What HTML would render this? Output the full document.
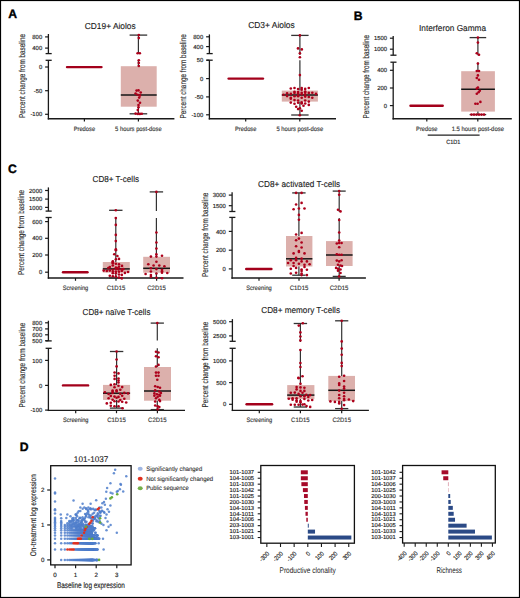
<!DOCTYPE html>
<html><head><meta charset="utf-8"><style>html,body{margin:0;padding:0;background:#fff;}body{width:520px;height:598px;position:relative;overflow:hidden;font-family:"Liberation Sans", sans-serif;}</style></head><body>
<svg width="520" height="598" viewBox="0 0 520 598" text-rendering="geometricPrecision" style="position:absolute;left:0;top:0" font-family='"Liberation Sans", sans-serif'>
<rect x="0" y="0" width="520" height="598" fill="#fff"/>
<rect x="0.5" y="0.5" width="519" height="597" fill="none" stroke="#000" stroke-width="1.2"/>
<text x="8.30" y="18.00" font-size="12.2" text-anchor="start" fill="#000" font-weight="bold" stroke="#000" stroke-width="0.35">A</text>
<text x="353.70" y="20.20" font-size="12.2" text-anchor="start" fill="#000" font-weight="bold" stroke="#000" stroke-width="0.35">B</text>
<text x="8.00" y="172.60" font-size="12.2" text-anchor="start" fill="#000" font-weight="bold" stroke="#000" stroke-width="0.35">C</text>
<text x="19.80" y="451.00" font-size="12.2" text-anchor="start" fill="#000" font-weight="bold" stroke="#000" stroke-width="0.35">D</text>
<text x="24.90" y="118.00" font-size="8.5" text-anchor="start" fill="#2a2a2a" font-weight="normal" textLength="84.00" lengthAdjust="spacingAndGlyphs" transform="rotate(-90 24.90 118.00)" stroke="#2a2a2a" stroke-width="0.15">Percent change from baseline</text>
<text x="84.80" y="28.60" font-size="8.7" text-anchor="start" fill="#1a1a1a" font-weight="normal" textLength="50.90" lengthAdjust="spacingAndGlyphs" stroke="#1a1a1a" stroke-width="0.12">CD19+ Aiolos</text>
<line x1="48.40" y1="34.00" x2="48.40" y2="53.60" stroke="#1a1a1a" stroke-width="1.3" stroke-linecap="butt"/>
<line x1="48.40" y1="60.30" x2="48.40" y2="119.45" stroke="#1a1a1a" stroke-width="1.3" stroke-linecap="butt"/>
<line x1="45.60" y1="53.60" x2="51.70" y2="53.60" stroke="#1a1a1a" stroke-width="1.3" stroke-linecap="butt"/>
<line x1="45.60" y1="60.30" x2="51.70" y2="60.30" stroke="#1a1a1a" stroke-width="1.3" stroke-linecap="butt"/>
<line x1="47.75" y1="118.80" x2="174.40" y2="118.80" stroke="#1a1a1a" stroke-width="1.4" stroke-linecap="butt"/>
<line x1="45.10" y1="36.90" x2="48.40" y2="36.90" stroke="#1a1a1a" stroke-width="1.2" stroke-linecap="butt"/>
<text x="42.20" y="39.00" font-size="5.9" text-anchor="end" fill="#222" font-weight="normal" stroke="#222" stroke-width="0.15">800</text>
<line x1="45.10" y1="48.10" x2="48.40" y2="48.10" stroke="#1a1a1a" stroke-width="1.2" stroke-linecap="butt"/>
<text x="42.20" y="50.20" font-size="5.9" text-anchor="end" fill="#222" font-weight="normal" stroke="#222" stroke-width="0.15">400</text>
<line x1="45.10" y1="67.00" x2="48.40" y2="67.00" stroke="#1a1a1a" stroke-width="1.2" stroke-linecap="butt"/>
<text x="42.20" y="69.10" font-size="5.9" text-anchor="end" fill="#222" font-weight="normal" stroke="#222" stroke-width="0.15">0</text>
<line x1="45.10" y1="90.70" x2="48.40" y2="90.70" stroke="#1a1a1a" stroke-width="1.2" stroke-linecap="butt"/>
<text x="42.20" y="92.80" font-size="5.9" text-anchor="end" fill="#222" font-weight="normal" stroke="#222" stroke-width="0.15">-50</text>
<line x1="45.10" y1="114.30" x2="48.40" y2="114.30" stroke="#1a1a1a" stroke-width="1.2" stroke-linecap="butt"/>
<text x="42.20" y="116.40" font-size="5.9" text-anchor="end" fill="#222" font-weight="normal" stroke="#222" stroke-width="0.15">-100</text>
<line x1="84.40" y1="118.80" x2="84.40" y2="121.60" stroke="#1a1a1a" stroke-width="1.2" stroke-linecap="butt"/>
<text x="84.40" y="130.70" font-size="6.3" text-anchor="middle" fill="#383838" font-weight="normal" textLength="21.40" lengthAdjust="spacingAndGlyphs" stroke="#383838" stroke-width="0.15">Predose</text>
<line x1="138.40" y1="118.80" x2="138.40" y2="121.60" stroke="#1a1a1a" stroke-width="1.2" stroke-linecap="butt"/>
<text x="138.40" y="130.70" font-size="6.3" text-anchor="middle" fill="#383838" font-weight="normal" textLength="46.70" lengthAdjust="spacingAndGlyphs" stroke="#383838" stroke-width="0.15">5 hours post-dose</text>
<line x1="67.00" y1="67.10" x2="101.50" y2="67.10" stroke="#a3001b" stroke-width="2.4" stroke-linecap="round"/>
<rect x="120.80" y="66.20" width="35.90" height="40.50" fill="#dcb0ac"/>
<line x1="138.40" y1="35.10" x2="138.40" y2="53.60" stroke="#333" stroke-width="1.2" stroke-linecap="butt"/>
<line x1="138.40" y1="60.30" x2="138.40" y2="66.20" stroke="#333" stroke-width="1.2" stroke-linecap="butt"/>
<line x1="138.40" y1="106.70" x2="138.40" y2="113.80" stroke="#333" stroke-width="1.2" stroke-linecap="butt"/>
<line x1="129.60" y1="35.10" x2="147.20" y2="35.10" stroke="#333" stroke-width="1.3" stroke-linecap="butt"/>
<line x1="129.60" y1="113.80" x2="147.20" y2="113.80" stroke="#333" stroke-width="1.3" stroke-linecap="butt"/>
<line x1="120.80" y1="94.90" x2="156.70" y2="94.90" stroke="#161616" stroke-width="1.5" stroke-linecap="butt"/>
<circle cx="138.80" cy="35.10" r="1.32" fill="#ad001b"/>
<circle cx="138.80" cy="38.10" r="1.32" fill="#ad001b"/>
<circle cx="137.60" cy="53.20" r="1.32" fill="#ad001b"/>
<circle cx="139.80" cy="53.20" r="1.32" fill="#ad001b"/>
<circle cx="138.80" cy="60.30" r="1.32" fill="#ad001b"/>
<circle cx="138.80" cy="63.00" r="1.32" fill="#ad001b"/>
<circle cx="138.80" cy="66.00" r="1.32" fill="#ad001b"/>
<circle cx="136.60" cy="90.60" r="1.32" fill="#ad001b"/>
<circle cx="138.50" cy="90.40" r="1.32" fill="#ad001b"/>
<circle cx="140.70" cy="92.50" r="1.32" fill="#ad001b"/>
<circle cx="135.60" cy="93.50" r="1.32" fill="#ad001b"/>
<circle cx="137.50" cy="94.70" r="1.32" fill="#ad001b"/>
<circle cx="140.00" cy="95.40" r="1.32" fill="#ad001b"/>
<circle cx="139.20" cy="97.60" r="1.32" fill="#ad001b"/>
<circle cx="137.80" cy="100.60" r="1.32" fill="#ad001b"/>
<circle cx="140.00" cy="102.80" r="1.32" fill="#ad001b"/>
<circle cx="138.50" cy="105.00" r="1.32" fill="#ad001b"/>
<circle cx="138.50" cy="107.20" r="1.32" fill="#ad001b"/>
<circle cx="137.80" cy="110.10" r="1.32" fill="#ad001b"/>
<circle cx="135.60" cy="113.60" r="1.32" fill="#ad001b"/>
<circle cx="137.80" cy="113.90" r="1.32" fill="#ad001b"/>
<circle cx="139.90" cy="113.90" r="1.32" fill="#ad001b"/>
<circle cx="141.80" cy="113.70" r="1.32" fill="#ad001b"/>
<text x="186.30" y="118.40" font-size="8.5" text-anchor="start" fill="#2a2a2a" font-weight="normal" textLength="84.10" lengthAdjust="spacingAndGlyphs" transform="rotate(-90 186.30 118.40)" stroke="#2a2a2a" stroke-width="0.15">Percent change from baseline</text>
<text x="248.20" y="28.40" font-size="8.7" text-anchor="start" fill="#1a1a1a" font-weight="normal" textLength="46.50" lengthAdjust="spacingAndGlyphs" stroke="#1a1a1a" stroke-width="0.12">CD3+ Aiolos</text>
<line x1="209.40" y1="34.40" x2="209.40" y2="53.60" stroke="#1a1a1a" stroke-width="1.3" stroke-linecap="butt"/>
<line x1="209.40" y1="60.20" x2="209.40" y2="119.45" stroke="#1a1a1a" stroke-width="1.3" stroke-linecap="butt"/>
<line x1="206.60" y1="53.60" x2="212.70" y2="53.60" stroke="#1a1a1a" stroke-width="1.3" stroke-linecap="butt"/>
<line x1="206.60" y1="60.20" x2="212.70" y2="60.20" stroke="#1a1a1a" stroke-width="1.3" stroke-linecap="butt"/>
<line x1="208.75" y1="118.80" x2="336.00" y2="118.80" stroke="#1a1a1a" stroke-width="1.4" stroke-linecap="butt"/>
<line x1="206.10" y1="36.80" x2="209.40" y2="36.80" stroke="#1a1a1a" stroke-width="1.2" stroke-linecap="butt"/>
<text x="203.20" y="38.90" font-size="5.9" text-anchor="end" fill="#222" font-weight="normal" stroke="#222" stroke-width="0.15">800</text>
<line x1="206.10" y1="46.60" x2="209.40" y2="46.60" stroke="#1a1a1a" stroke-width="1.2" stroke-linecap="butt"/>
<text x="203.20" y="48.70" font-size="5.9" text-anchor="end" fill="#222" font-weight="normal" stroke="#222" stroke-width="0.15">400</text>
<line x1="206.10" y1="60.20" x2="209.40" y2="60.20" stroke="#1a1a1a" stroke-width="1.2" stroke-linecap="butt"/>
<text x="203.20" y="62.30" font-size="5.9" text-anchor="end" fill="#222" font-weight="normal" stroke="#222" stroke-width="0.15">50</text>
<line x1="206.10" y1="78.60" x2="209.40" y2="78.60" stroke="#1a1a1a" stroke-width="1.2" stroke-linecap="butt"/>
<text x="203.20" y="80.70" font-size="5.9" text-anchor="end" fill="#222" font-weight="normal" stroke="#222" stroke-width="0.15">0</text>
<line x1="206.10" y1="96.90" x2="209.40" y2="96.90" stroke="#1a1a1a" stroke-width="1.2" stroke-linecap="butt"/>
<text x="203.20" y="99.00" font-size="5.9" text-anchor="end" fill="#222" font-weight="normal" stroke="#222" stroke-width="0.15">-50</text>
<line x1="206.10" y1="114.80" x2="209.40" y2="114.80" stroke="#1a1a1a" stroke-width="1.2" stroke-linecap="butt"/>
<text x="203.20" y="116.90" font-size="5.9" text-anchor="end" fill="#222" font-weight="normal" stroke="#222" stroke-width="0.15">-100</text>
<line x1="245.70" y1="118.80" x2="245.70" y2="121.60" stroke="#1a1a1a" stroke-width="1.2" stroke-linecap="butt"/>
<text x="245.70" y="130.70" font-size="6.3" text-anchor="middle" fill="#383838" font-weight="normal" textLength="21.40" lengthAdjust="spacingAndGlyphs" stroke="#383838" stroke-width="0.15">Predose</text>
<line x1="299.80" y1="118.80" x2="299.80" y2="121.60" stroke="#1a1a1a" stroke-width="1.2" stroke-linecap="butt"/>
<text x="299.80" y="130.70" font-size="6.3" text-anchor="middle" fill="#383838" font-weight="normal" textLength="46.70" lengthAdjust="spacingAndGlyphs" stroke="#383838" stroke-width="0.15">5 hours post-dose</text>
<line x1="228.60" y1="78.60" x2="263.00" y2="78.60" stroke="#a3001b" stroke-width="2.4" stroke-linecap="round"/>
<rect x="281.80" y="90.60" width="36.10" height="11.00" fill="#dcb0ac"/>
<line x1="299.90" y1="35.40" x2="299.90" y2="55.00" stroke="#333" stroke-width="1.2" stroke-linecap="butt"/>
<line x1="299.90" y1="60.20" x2="299.90" y2="90.60" stroke="#333" stroke-width="1.2" stroke-linecap="butt"/>
<line x1="299.90" y1="101.60" x2="299.90" y2="115.00" stroke="#333" stroke-width="1.2" stroke-linecap="butt"/>
<line x1="291.20" y1="35.40" x2="308.60" y2="35.40" stroke="#333" stroke-width="1.3" stroke-linecap="butt"/>
<line x1="291.20" y1="115.00" x2="308.60" y2="115.00" stroke="#333" stroke-width="1.3" stroke-linecap="butt"/>
<line x1="281.80" y1="95.00" x2="317.90" y2="95.00" stroke="#161616" stroke-width="1.5" stroke-linecap="butt"/>
<circle cx="299.90" cy="35.40" r="1.32" fill="#ad001b"/>
<circle cx="298.00" cy="48.40" r="1.32" fill="#ad001b"/>
<circle cx="301.80" cy="49.40" r="1.32" fill="#ad001b"/>
<circle cx="299.90" cy="53.30" r="1.32" fill="#ad001b"/>
<circle cx="299.90" cy="57.20" r="1.32" fill="#ad001b"/>
<circle cx="299.90" cy="75.10" r="1.32" fill="#ad001b"/>
<circle cx="290.80" cy="88.50" r="1.32" fill="#ad001b"/>
<circle cx="294.50" cy="88.00" r="1.32" fill="#ad001b"/>
<circle cx="298.10" cy="89.10" r="1.32" fill="#ad001b"/>
<circle cx="301.70" cy="88.00" r="1.32" fill="#ad001b"/>
<circle cx="301.70" cy="89.70" r="1.32" fill="#ad001b"/>
<circle cx="305.20" cy="88.90" r="1.32" fill="#ad001b"/>
<circle cx="308.80" cy="88.00" r="1.32" fill="#ad001b"/>
<circle cx="287.10" cy="93.20" r="1.32" fill="#ad001b"/>
<circle cx="294.50" cy="91.80" r="1.32" fill="#ad001b"/>
<circle cx="294.50" cy="92.90" r="1.32" fill="#ad001b"/>
<circle cx="298.10" cy="92.00" r="1.32" fill="#ad001b"/>
<circle cx="298.10" cy="93.20" r="1.32" fill="#ad001b"/>
<circle cx="301.70" cy="92.80" r="1.32" fill="#ad001b"/>
<circle cx="305.20" cy="91.60" r="1.32" fill="#ad001b"/>
<circle cx="305.20" cy="92.80" r="1.32" fill="#ad001b"/>
<circle cx="308.80" cy="92.90" r="1.32" fill="#ad001b"/>
<circle cx="312.30" cy="92.80" r="1.32" fill="#ad001b"/>
<circle cx="316.00" cy="93.90" r="1.32" fill="#ad001b"/>
<circle cx="283.50" cy="94.70" r="1.32" fill="#ad001b"/>
<circle cx="290.80" cy="93.90" r="1.32" fill="#ad001b"/>
<circle cx="298.10" cy="95.50" r="1.32" fill="#ad001b"/>
<circle cx="301.70" cy="94.30" r="1.32" fill="#ad001b"/>
<circle cx="305.20" cy="94.70" r="1.32" fill="#ad001b"/>
<circle cx="287.10" cy="96.10" r="1.32" fill="#ad001b"/>
<circle cx="294.50" cy="96.20" r="1.32" fill="#ad001b"/>
<circle cx="298.10" cy="96.20" r="1.32" fill="#ad001b"/>
<circle cx="305.20" cy="96.60" r="1.32" fill="#ad001b"/>
<circle cx="308.80" cy="97.00" r="1.32" fill="#ad001b"/>
<circle cx="290.80" cy="97.80" r="1.32" fill="#ad001b"/>
<circle cx="290.80" cy="98.80" r="1.32" fill="#ad001b"/>
<circle cx="301.70" cy="97.80" r="1.32" fill="#ad001b"/>
<circle cx="312.30" cy="97.80" r="1.32" fill="#ad001b"/>
<circle cx="294.50" cy="100.10" r="1.32" fill="#ad001b"/>
<circle cx="298.10" cy="100.50" r="1.32" fill="#ad001b"/>
<circle cx="305.20" cy="100.50" r="1.32" fill="#ad001b"/>
<circle cx="308.80" cy="101.60" r="1.32" fill="#ad001b"/>
<circle cx="290.80" cy="102.60" r="1.32" fill="#ad001b"/>
<circle cx="294.50" cy="103.70" r="1.32" fill="#ad001b"/>
<circle cx="298.10" cy="102.80" r="1.32" fill="#ad001b"/>
<circle cx="301.70" cy="102.40" r="1.32" fill="#ad001b"/>
<circle cx="301.70" cy="103.50" r="1.32" fill="#ad001b"/>
<circle cx="305.20" cy="103.50" r="1.32" fill="#ad001b"/>
<circle cx="308.80" cy="104.90" r="1.32" fill="#ad001b"/>
<circle cx="296.20" cy="106.80" r="1.32" fill="#ad001b"/>
<circle cx="303.50" cy="105.80" r="1.32" fill="#ad001b"/>
<circle cx="298.10" cy="109.10" r="1.32" fill="#ad001b"/>
<circle cx="299.90" cy="108.20" r="1.32" fill="#ad001b"/>
<circle cx="301.70" cy="110.80" r="1.32" fill="#ad001b"/>
<circle cx="299.80" cy="115.20" r="1.32" fill="#ad001b"/>
<text x="368.60" y="118.50" font-size="8.5" text-anchor="start" fill="#2a2a2a" font-weight="normal" textLength="83.50" lengthAdjust="spacingAndGlyphs" transform="rotate(-90 368.60 118.50)" stroke="#2a2a2a" stroke-width="0.15">Percent change from baseline</text>
<text x="419.00" y="30.60" font-size="8.7" text-anchor="start" fill="#1a1a1a" font-weight="normal" textLength="67.00" lengthAdjust="spacingAndGlyphs" stroke="#1a1a1a" stroke-width="0.12">Interferon Gamma</text>
<line x1="393.20" y1="36.00" x2="393.20" y2="55.20" stroke="#1a1a1a" stroke-width="1.3" stroke-linecap="butt"/>
<line x1="393.20" y1="62.20" x2="393.20" y2="119.45" stroke="#1a1a1a" stroke-width="1.3" stroke-linecap="butt"/>
<line x1="390.40" y1="55.20" x2="396.50" y2="55.20" stroke="#1a1a1a" stroke-width="1.3" stroke-linecap="butt"/>
<line x1="390.40" y1="62.20" x2="396.50" y2="62.20" stroke="#1a1a1a" stroke-width="1.3" stroke-linecap="butt"/>
<line x1="392.55" y1="118.80" x2="511.80" y2="118.80" stroke="#1a1a1a" stroke-width="1.4" stroke-linecap="butt"/>
<line x1="389.90" y1="38.20" x2="393.20" y2="38.20" stroke="#1a1a1a" stroke-width="1.2" stroke-linecap="butt"/>
<text x="387.00" y="40.30" font-size="5.9" text-anchor="end" fill="#222" font-weight="normal" stroke="#222" stroke-width="0.15">1500</text>
<line x1="389.90" y1="49.20" x2="393.20" y2="49.20" stroke="#1a1a1a" stroke-width="1.2" stroke-linecap="butt"/>
<text x="387.00" y="51.30" font-size="5.9" text-anchor="end" fill="#222" font-weight="normal" stroke="#222" stroke-width="0.15">1000</text>
<line x1="389.90" y1="70.30" x2="393.20" y2="70.30" stroke="#1a1a1a" stroke-width="1.2" stroke-linecap="butt"/>
<text x="387.00" y="72.40" font-size="5.9" text-anchor="end" fill="#222" font-weight="normal" stroke="#222" stroke-width="0.15">400</text>
<line x1="389.90" y1="88.00" x2="393.20" y2="88.00" stroke="#1a1a1a" stroke-width="1.2" stroke-linecap="butt"/>
<text x="387.00" y="90.10" font-size="5.9" text-anchor="end" fill="#222" font-weight="normal" stroke="#222" stroke-width="0.15">200</text>
<line x1="389.90" y1="105.60" x2="393.20" y2="105.60" stroke="#1a1a1a" stroke-width="1.2" stroke-linecap="butt"/>
<text x="387.00" y="107.70" font-size="5.9" text-anchor="end" fill="#222" font-weight="normal" stroke="#222" stroke-width="0.15">0</text>
<line x1="426.80" y1="118.80" x2="426.80" y2="121.60" stroke="#1a1a1a" stroke-width="1.2" stroke-linecap="butt"/>
<text x="426.80" y="130.70" font-size="6.3" text-anchor="middle" fill="#383838" font-weight="normal" textLength="21.40" lengthAdjust="spacingAndGlyphs" stroke="#383838" stroke-width="0.15">Predose</text>
<line x1="477.80" y1="118.80" x2="477.80" y2="121.60" stroke="#1a1a1a" stroke-width="1.2" stroke-linecap="butt"/>
<text x="477.80" y="130.70" font-size="6.3" text-anchor="middle" fill="#383838" font-weight="normal" textLength="52.30" lengthAdjust="spacingAndGlyphs" stroke="#383838" stroke-width="0.15">1.5 hours post-dose</text>
<line x1="410.50" y1="105.70" x2="442.70" y2="105.70" stroke="#a3001b" stroke-width="2.4" stroke-linecap="round"/>
<rect x="461.20" y="71.20" width="33.70" height="40.40" fill="#dcb0ac"/>
<line x1="477.90" y1="37.60" x2="477.90" y2="55.20" stroke="#333" stroke-width="1.2" stroke-linecap="butt"/>
<line x1="477.90" y1="62.50" x2="477.90" y2="71.20" stroke="#333" stroke-width="1.2" stroke-linecap="butt"/>
<line x1="477.90" y1="111.60" x2="477.90" y2="114.60" stroke="#333" stroke-width="1.2" stroke-linecap="butt"/>
<line x1="469.60" y1="37.60" x2="486.20" y2="37.60" stroke="#333" stroke-width="1.3" stroke-linecap="butt"/>
<line x1="469.60" y1="114.60" x2="486.20" y2="114.60" stroke="#333" stroke-width="1.3" stroke-linecap="butt"/>
<line x1="461.20" y1="89.30" x2="494.90" y2="89.30" stroke="#161616" stroke-width="1.5" stroke-linecap="butt"/>
<circle cx="477.90" cy="37.60" r="1.32" fill="#ad001b"/>
<circle cx="477.90" cy="42.60" r="1.32" fill="#ad001b"/>
<circle cx="476.80" cy="53.30" r="1.32" fill="#ad001b"/>
<circle cx="479.00" cy="54.80" r="1.32" fill="#ad001b"/>
<circle cx="477.90" cy="63.60" r="1.32" fill="#ad001b"/>
<circle cx="476.80" cy="71.00" r="1.32" fill="#ad001b"/>
<circle cx="479.00" cy="71.00" r="1.32" fill="#ad001b"/>
<circle cx="477.90" cy="75.40" r="1.32" fill="#ad001b"/>
<circle cx="476.80" cy="78.00" r="1.32" fill="#ad001b"/>
<circle cx="479.00" cy="79.80" r="1.32" fill="#ad001b"/>
<circle cx="477.90" cy="87.60" r="1.32" fill="#ad001b"/>
<circle cx="476.80" cy="88.60" r="1.32" fill="#ad001b"/>
<circle cx="479.80" cy="90.80" r="1.32" fill="#ad001b"/>
<circle cx="478.60" cy="92.30" r="1.32" fill="#ad001b"/>
<circle cx="476.80" cy="93.80" r="1.32" fill="#ad001b"/>
<circle cx="475.40" cy="103.80" r="1.32" fill="#ad001b"/>
<circle cx="477.60" cy="103.80" r="1.32" fill="#ad001b"/>
<circle cx="480.40" cy="101.90" r="1.32" fill="#ad001b"/>
<circle cx="471.50" cy="114.60" r="1.32" fill="#ad001b"/>
<circle cx="474.00" cy="114.60" r="1.32" fill="#ad001b"/>
<circle cx="476.50" cy="114.60" r="1.32" fill="#ad001b"/>
<circle cx="479.00" cy="114.60" r="1.32" fill="#ad001b"/>
<circle cx="481.50" cy="114.60" r="1.32" fill="#ad001b"/>
<circle cx="484.00" cy="114.60" r="1.32" fill="#ad001b"/>
<text x="24.00" y="275.00" font-size="8.5" text-anchor="start" fill="#2a2a2a" font-weight="normal" textLength="85.00" lengthAdjust="spacingAndGlyphs" transform="rotate(-90 24.00 275.00)" stroke="#2a2a2a" stroke-width="0.15">Percent change from baseline</text>
<text x="92.60" y="182.10" font-size="8.7" text-anchor="start" fill="#1a1a1a" font-weight="normal" textLength="46.40" lengthAdjust="spacingAndGlyphs" stroke="#1a1a1a" stroke-width="0.12">CD8+ T-cells</text>
<line x1="48.40" y1="187.40" x2="48.40" y2="211.10" stroke="#1a1a1a" stroke-width="1.3" stroke-linecap="butt"/>
<line x1="48.40" y1="217.50" x2="48.40" y2="278.65" stroke="#1a1a1a" stroke-width="1.3" stroke-linecap="butt"/>
<line x1="45.60" y1="211.10" x2="51.70" y2="211.10" stroke="#1a1a1a" stroke-width="1.3" stroke-linecap="butt"/>
<line x1="45.60" y1="217.50" x2="51.70" y2="217.50" stroke="#1a1a1a" stroke-width="1.3" stroke-linecap="butt"/>
<line x1="47.75" y1="278.00" x2="183.50" y2="278.00" stroke="#1a1a1a" stroke-width="1.4" stroke-linecap="butt"/>
<line x1="45.10" y1="190.50" x2="48.40" y2="190.50" stroke="#1a1a1a" stroke-width="1.2" stroke-linecap="butt"/>
<text x="42.20" y="192.60" font-size="5.9" text-anchor="end" fill="#222" font-weight="normal" stroke="#222" stroke-width="0.15">2000</text>
<line x1="45.10" y1="199.10" x2="48.40" y2="199.10" stroke="#1a1a1a" stroke-width="1.2" stroke-linecap="butt"/>
<text x="42.20" y="201.20" font-size="5.9" text-anchor="end" fill="#222" font-weight="normal" stroke="#222" stroke-width="0.15">1500</text>
<line x1="45.10" y1="207.40" x2="48.40" y2="207.40" stroke="#1a1a1a" stroke-width="1.2" stroke-linecap="butt"/>
<text x="42.20" y="209.50" font-size="5.9" text-anchor="end" fill="#222" font-weight="normal" stroke="#222" stroke-width="0.15">1000</text>
<line x1="45.10" y1="221.60" x2="48.40" y2="221.60" stroke="#1a1a1a" stroke-width="1.2" stroke-linecap="butt"/>
<text x="42.20" y="223.70" font-size="5.9" text-anchor="end" fill="#222" font-weight="normal" stroke="#222" stroke-width="0.15">600</text>
<line x1="45.10" y1="238.30" x2="48.40" y2="238.30" stroke="#1a1a1a" stroke-width="1.2" stroke-linecap="butt"/>
<text x="42.20" y="240.40" font-size="5.9" text-anchor="end" fill="#222" font-weight="normal" stroke="#222" stroke-width="0.15">400</text>
<line x1="45.10" y1="255.00" x2="48.40" y2="255.00" stroke="#1a1a1a" stroke-width="1.2" stroke-linecap="butt"/>
<text x="42.20" y="257.10" font-size="5.9" text-anchor="end" fill="#222" font-weight="normal" stroke="#222" stroke-width="0.15">200</text>
<line x1="45.10" y1="272.20" x2="48.40" y2="272.20" stroke="#1a1a1a" stroke-width="1.2" stroke-linecap="butt"/>
<text x="42.20" y="274.30" font-size="5.9" text-anchor="end" fill="#222" font-weight="normal" stroke="#222" stroke-width="0.15">0</text>
<line x1="75.50" y1="278.00" x2="75.50" y2="280.80" stroke="#1a1a1a" stroke-width="1.2" stroke-linecap="butt"/>
<text x="75.50" y="289.90" font-size="6.3" text-anchor="middle" fill="#383838" font-weight="normal" textLength="25.50" lengthAdjust="spacingAndGlyphs" stroke="#383838" stroke-width="0.15">Screening</text>
<line x1="116.00" y1="278.00" x2="116.00" y2="280.80" stroke="#1a1a1a" stroke-width="1.2" stroke-linecap="butt"/>
<text x="116.00" y="289.90" font-size="6.3" text-anchor="middle" fill="#383838" font-weight="normal" textLength="18.60" lengthAdjust="spacingAndGlyphs" stroke="#383838" stroke-width="0.15">C1D15</text>
<line x1="156.60" y1="278.00" x2="156.60" y2="280.80" stroke="#1a1a1a" stroke-width="1.2" stroke-linecap="butt"/>
<text x="156.60" y="289.90" font-size="6.3" text-anchor="middle" fill="#383838" font-weight="normal" textLength="18.60" lengthAdjust="spacingAndGlyphs" stroke="#383838" stroke-width="0.15">C2D15</text>
<line x1="63.00" y1="272.30" x2="87.50" y2="272.30" stroke="#a3001b" stroke-width="2.4" stroke-linecap="round"/>
<rect x="102.80" y="262.00" width="27.00" height="10.60" fill="#dcb0ac"/>
<line x1="115.80" y1="210.30" x2="115.80" y2="210.30" stroke="#333" stroke-width="1.2" stroke-linecap="butt"/>
<line x1="115.80" y1="217.80" x2="115.80" y2="262.00" stroke="#333" stroke-width="1.2" stroke-linecap="butt"/>
<line x1="115.80" y1="272.60" x2="115.80" y2="278.00" stroke="#333" stroke-width="1.2" stroke-linecap="butt"/>
<line x1="109.10" y1="210.30" x2="122.50" y2="210.30" stroke="#333" stroke-width="1.3" stroke-linecap="butt"/>
<line x1="109.10" y1="278.00" x2="122.50" y2="278.00" stroke="#333" stroke-width="1.3" stroke-linecap="butt"/>
<line x1="102.80" y1="268.90" x2="129.80" y2="268.90" stroke="#161616" stroke-width="1.5" stroke-linecap="butt"/>
<circle cx="115.80" cy="210.30" r="1.32" fill="#ad001b"/>
<circle cx="115.80" cy="218.10" r="1.32" fill="#ad001b"/>
<circle cx="115.80" cy="224.90" r="1.32" fill="#ad001b"/>
<circle cx="115.80" cy="234.90" r="1.32" fill="#ad001b"/>
<circle cx="115.80" cy="241.10" r="1.32" fill="#ad001b"/>
<circle cx="115.80" cy="249.30" r="1.32" fill="#ad001b"/>
<circle cx="115.90" cy="250.30" r="1.32" fill="#ad001b"/>
<circle cx="114.30" cy="254.20" r="1.32" fill="#ad001b"/>
<circle cx="117.40" cy="256.00" r="1.32" fill="#ad001b"/>
<circle cx="115.90" cy="259.20" r="1.32" fill="#ad001b"/>
<circle cx="119.00" cy="258.90" r="1.32" fill="#ad001b"/>
<circle cx="112.80" cy="261.20" r="1.32" fill="#ad001b"/>
<circle cx="112.80" cy="262.30" r="1.32" fill="#ad001b"/>
<circle cx="112.80" cy="263.20" r="1.32" fill="#ad001b"/>
<circle cx="115.90" cy="263.80" r="1.32" fill="#ad001b"/>
<circle cx="119.00" cy="264.20" r="1.32" fill="#ad001b"/>
<circle cx="112.80" cy="265.50" r="1.32" fill="#ad001b"/>
<circle cx="122.00" cy="265.90" r="1.32" fill="#ad001b"/>
<circle cx="109.80" cy="267.10" r="1.32" fill="#ad001b"/>
<circle cx="108.30" cy="268.00" r="1.32" fill="#ad001b"/>
<circle cx="115.90" cy="267.50" r="1.32" fill="#ad001b"/>
<circle cx="119.00" cy="266.70" r="1.32" fill="#ad001b"/>
<circle cx="117.40" cy="268.20" r="1.32" fill="#ad001b"/>
<circle cx="103.70" cy="270.60" r="1.32" fill="#ad001b"/>
<circle cx="106.80" cy="270.90" r="1.32" fill="#ad001b"/>
<circle cx="109.80" cy="270.60" r="1.32" fill="#ad001b"/>
<circle cx="112.80" cy="269.70" r="1.32" fill="#ad001b"/>
<circle cx="115.90" cy="268.80" r="1.32" fill="#ad001b"/>
<circle cx="118.50" cy="269.40" r="1.32" fill="#ad001b"/>
<circle cx="121.80" cy="269.40" r="1.32" fill="#ad001b"/>
<circle cx="123.40" cy="269.10" r="1.32" fill="#ad001b"/>
<circle cx="112.80" cy="271.80" r="1.32" fill="#ad001b"/>
<circle cx="115.90" cy="271.50" r="1.32" fill="#ad001b"/>
<circle cx="119.00" cy="271.70" r="1.32" fill="#ad001b"/>
<circle cx="121.80" cy="270.90" r="1.32" fill="#ad001b"/>
<circle cx="112.80" cy="273.30" r="1.32" fill="#ad001b"/>
<circle cx="115.90" cy="273.30" r="1.32" fill="#ad001b"/>
<circle cx="124.90" cy="272.90" r="1.32" fill="#ad001b"/>
<circle cx="128.00" cy="272.00" r="1.32" fill="#ad001b"/>
<circle cx="109.80" cy="275.80" r="1.32" fill="#ad001b"/>
<circle cx="112.80" cy="276.30" r="1.32" fill="#ad001b"/>
<circle cx="115.90" cy="276.60" r="1.32" fill="#ad001b"/>
<circle cx="119.00" cy="274.50" r="1.32" fill="#ad001b"/>
<circle cx="121.80" cy="274.90" r="1.32" fill="#ad001b"/>
<circle cx="119.00" cy="277.60" r="1.32" fill="#ad001b"/>
<circle cx="121.80" cy="278.40" r="1.32" fill="#ad001b"/>
<rect x="143.20" y="256.80" width="26.80" height="15.90" fill="#dcb0ac"/>
<line x1="156.40" y1="191.90" x2="156.40" y2="210.90" stroke="#333" stroke-width="1.2" stroke-linecap="butt"/>
<line x1="156.40" y1="218.10" x2="156.40" y2="256.80" stroke="#333" stroke-width="1.2" stroke-linecap="butt"/>
<line x1="156.40" y1="272.70" x2="156.40" y2="278.00" stroke="#333" stroke-width="1.2" stroke-linecap="butt"/>
<line x1="149.70" y1="191.90" x2="163.10" y2="191.90" stroke="#333" stroke-width="1.3" stroke-linecap="butt"/>
<line x1="149.70" y1="278.00" x2="163.10" y2="278.00" stroke="#333" stroke-width="1.3" stroke-linecap="butt"/>
<line x1="143.20" y1="268.30" x2="170.00" y2="268.30" stroke="#161616" stroke-width="1.5" stroke-linecap="butt"/>
<circle cx="156.40" cy="191.90" r="1.32" fill="#ad001b"/>
<circle cx="156.40" cy="232.50" r="1.32" fill="#ad001b"/>
<circle cx="156.40" cy="242.50" r="1.32" fill="#ad001b"/>
<circle cx="156.40" cy="248.60" r="1.32" fill="#ad001b"/>
<circle cx="156.40" cy="254.20" r="1.32" fill="#ad001b"/>
<circle cx="150.90" cy="256.60" r="1.32" fill="#ad001b"/>
<circle cx="156.40" cy="256.60" r="1.32" fill="#ad001b"/>
<circle cx="162.00" cy="255.80" r="1.32" fill="#ad001b"/>
<circle cx="156.40" cy="261.80" r="1.32" fill="#ad001b"/>
<circle cx="148.30" cy="264.30" r="1.32" fill="#ad001b"/>
<circle cx="153.60" cy="265.50" r="1.32" fill="#ad001b"/>
<circle cx="159.30" cy="265.50" r="1.32" fill="#ad001b"/>
<circle cx="164.40" cy="266.30" r="1.32" fill="#ad001b"/>
<circle cx="150.90" cy="268.30" r="1.32" fill="#ad001b"/>
<circle cx="156.40" cy="269.10" r="1.32" fill="#ad001b"/>
<circle cx="162.00" cy="269.80" r="1.32" fill="#ad001b"/>
<circle cx="145.60" cy="274.00" r="1.32" fill="#ad001b"/>
<circle cx="150.90" cy="275.10" r="1.32" fill="#ad001b"/>
<circle cx="150.90" cy="276.70" r="1.32" fill="#ad001b"/>
<circle cx="156.40" cy="273.50" r="1.32" fill="#ad001b"/>
<circle cx="162.00" cy="272.70" r="1.32" fill="#ad001b"/>
<circle cx="167.30" cy="273.00" r="1.32" fill="#ad001b"/>
<circle cx="156.40" cy="277.80" r="1.32" fill="#ad001b"/>
<circle cx="162.00" cy="278.30" r="1.32" fill="#ad001b"/>
<circle cx="162.00" cy="271.30" r="1.32" fill="#ad001b"/>
<circle cx="150.90" cy="271.50" r="1.32" fill="#ad001b"/>
<text x="207.60" y="277.00" font-size="8.5" text-anchor="start" fill="#2a2a2a" font-weight="normal" textLength="84.20" lengthAdjust="spacingAndGlyphs" transform="rotate(-90 207.60 277.00)" stroke="#2a2a2a" stroke-width="0.15">Percent change from baseline</text>
<text x="258.10" y="187.00" font-size="8.7" text-anchor="start" fill="#1a1a1a" font-weight="normal" textLength="82.00" lengthAdjust="spacingAndGlyphs" stroke="#1a1a1a" stroke-width="0.12">CD8+ activated T-cells</text>
<line x1="232.10" y1="192.30" x2="232.10" y2="211.50" stroke="#1a1a1a" stroke-width="1.3" stroke-linecap="butt"/>
<line x1="232.10" y1="217.40" x2="232.10" y2="278.65" stroke="#1a1a1a" stroke-width="1.3" stroke-linecap="butt"/>
<line x1="229.30" y1="211.50" x2="235.40" y2="211.50" stroke="#1a1a1a" stroke-width="1.3" stroke-linecap="butt"/>
<line x1="229.30" y1="217.40" x2="235.40" y2="217.40" stroke="#1a1a1a" stroke-width="1.3" stroke-linecap="butt"/>
<line x1="231.45" y1="278.00" x2="365.90" y2="278.00" stroke="#1a1a1a" stroke-width="1.4" stroke-linecap="butt"/>
<line x1="228.80" y1="195.10" x2="232.10" y2="195.10" stroke="#1a1a1a" stroke-width="1.2" stroke-linecap="butt"/>
<text x="225.90" y="197.20" font-size="5.9" text-anchor="end" fill="#222" font-weight="normal" stroke="#222" stroke-width="0.15">3000</text>
<line x1="228.80" y1="205.70" x2="232.10" y2="205.70" stroke="#1a1a1a" stroke-width="1.2" stroke-linecap="butt"/>
<text x="225.90" y="207.80" font-size="5.9" text-anchor="end" fill="#222" font-weight="normal" stroke="#222" stroke-width="0.15">1500</text>
<line x1="228.80" y1="231.40" x2="232.10" y2="231.40" stroke="#1a1a1a" stroke-width="1.2" stroke-linecap="butt"/>
<text x="225.90" y="233.50" font-size="5.9" text-anchor="end" fill="#222" font-weight="normal" stroke="#222" stroke-width="0.15">400</text>
<line x1="228.80" y1="250.20" x2="232.10" y2="250.20" stroke="#1a1a1a" stroke-width="1.2" stroke-linecap="butt"/>
<text x="225.90" y="252.30" font-size="5.9" text-anchor="end" fill="#222" font-weight="normal" stroke="#222" stroke-width="0.15">200</text>
<line x1="228.80" y1="268.90" x2="232.10" y2="268.90" stroke="#1a1a1a" stroke-width="1.2" stroke-linecap="butt"/>
<text x="225.90" y="271.00" font-size="5.9" text-anchor="end" fill="#222" font-weight="normal" stroke="#222" stroke-width="0.15">0</text>
<line x1="259.00" y1="278.00" x2="259.00" y2="280.80" stroke="#1a1a1a" stroke-width="1.2" stroke-linecap="butt"/>
<text x="259.00" y="289.90" font-size="6.3" text-anchor="middle" fill="#383838" font-weight="normal" textLength="25.50" lengthAdjust="spacingAndGlyphs" stroke="#383838" stroke-width="0.15">Screening</text>
<line x1="299.00" y1="278.00" x2="299.00" y2="280.80" stroke="#1a1a1a" stroke-width="1.2" stroke-linecap="butt"/>
<text x="299.00" y="289.90" font-size="6.3" text-anchor="middle" fill="#383838" font-weight="normal" textLength="18.60" lengthAdjust="spacingAndGlyphs" stroke="#383838" stroke-width="0.15">C1D15</text>
<line x1="339.10" y1="278.00" x2="339.10" y2="280.80" stroke="#1a1a1a" stroke-width="1.2" stroke-linecap="butt"/>
<text x="339.10" y="289.90" font-size="6.3" text-anchor="middle" fill="#383838" font-weight="normal" textLength="18.60" lengthAdjust="spacingAndGlyphs" stroke="#383838" stroke-width="0.15">C2D15</text>
<line x1="246.20" y1="269.00" x2="271.40" y2="269.00" stroke="#a3001b" stroke-width="2.4" stroke-linecap="round"/>
<rect x="286.00" y="236.00" width="26.40" height="30.50" fill="#dcb0ac"/>
<line x1="298.90" y1="192.90" x2="298.90" y2="236.00" stroke="#333" stroke-width="1.2" stroke-linecap="butt"/>
<line x1="298.90" y1="266.50" x2="298.90" y2="275.20" stroke="#333" stroke-width="1.2" stroke-linecap="butt"/>
<line x1="292.20" y1="192.90" x2="305.60" y2="192.90" stroke="#333" stroke-width="1.3" stroke-linecap="butt"/>
<line x1="292.20" y1="275.20" x2="305.60" y2="275.20" stroke="#333" stroke-width="1.3" stroke-linecap="butt"/>
<line x1="286.00" y1="258.80" x2="312.40" y2="258.80" stroke="#161616" stroke-width="1.5" stroke-linecap="butt"/>
<circle cx="296.10" cy="192.90" r="1.32" fill="#ad001b"/>
<circle cx="301.60" cy="192.90" r="1.32" fill="#ad001b"/>
<circle cx="296.10" cy="204.50" r="1.32" fill="#ad001b"/>
<circle cx="301.60" cy="202.90" r="1.32" fill="#ad001b"/>
<circle cx="293.60" cy="209.30" r="1.32" fill="#ad001b"/>
<circle cx="298.90" cy="208.50" r="1.32" fill="#ad001b"/>
<circle cx="304.50" cy="208.50" r="1.32" fill="#ad001b"/>
<circle cx="298.90" cy="214.90" r="1.32" fill="#ad001b"/>
<circle cx="298.90" cy="219.70" r="1.32" fill="#ad001b"/>
<circle cx="296.10" cy="234.50" r="1.32" fill="#ad001b"/>
<circle cx="301.60" cy="232.90" r="1.32" fill="#ad001b"/>
<circle cx="296.10" cy="240.30" r="1.32" fill="#ad001b"/>
<circle cx="298.90" cy="238.60" r="1.32" fill="#ad001b"/>
<circle cx="301.60" cy="242.50" r="1.32" fill="#ad001b"/>
<circle cx="296.10" cy="246.20" r="1.32" fill="#ad001b"/>
<circle cx="301.60" cy="247.50" r="1.32" fill="#ad001b"/>
<circle cx="298.90" cy="251.00" r="1.32" fill="#ad001b"/>
<circle cx="298.90" cy="252.00" r="1.32" fill="#ad001b"/>
<circle cx="293.60" cy="253.40" r="1.32" fill="#ad001b"/>
<circle cx="304.50" cy="253.40" r="1.32" fill="#ad001b"/>
<circle cx="296.10" cy="257.90" r="1.32" fill="#ad001b"/>
<circle cx="301.60" cy="258.60" r="1.32" fill="#ad001b"/>
<circle cx="290.80" cy="260.20" r="1.32" fill="#ad001b"/>
<circle cx="296.10" cy="260.20" r="1.32" fill="#ad001b"/>
<circle cx="301.60" cy="261.40" r="1.32" fill="#ad001b"/>
<circle cx="306.90" cy="261.40" r="1.32" fill="#ad001b"/>
<circle cx="288.10" cy="263.00" r="1.32" fill="#ad001b"/>
<circle cx="293.60" cy="263.00" r="1.32" fill="#ad001b"/>
<circle cx="298.90" cy="263.80" r="1.32" fill="#ad001b"/>
<circle cx="304.50" cy="264.70" r="1.32" fill="#ad001b"/>
<circle cx="309.60" cy="264.30" r="1.32" fill="#ad001b"/>
<circle cx="290.80" cy="268.70" r="1.32" fill="#ad001b"/>
<circle cx="296.10" cy="267.90" r="1.32" fill="#ad001b"/>
<circle cx="301.60" cy="269.50" r="1.32" fill="#ad001b"/>
<circle cx="306.90" cy="269.80" r="1.32" fill="#ad001b"/>
<circle cx="290.80" cy="273.50" r="1.32" fill="#ad001b"/>
<circle cx="296.10" cy="272.70" r="1.32" fill="#ad001b"/>
<circle cx="301.60" cy="273.50" r="1.32" fill="#ad001b"/>
<circle cx="306.90" cy="275.10" r="1.32" fill="#ad001b"/>
<circle cx="301.60" cy="271.00" r="1.32" fill="#ad001b"/>
<circle cx="301.60" cy="275.10" r="1.32" fill="#ad001b"/>
<circle cx="293.60" cy="266.00" r="1.32" fill="#ad001b"/>
<circle cx="304.50" cy="267.00" r="1.32" fill="#ad001b"/>
<rect x="326.00" y="241.10" width="26.60" height="24.90" fill="#dcb0ac"/>
<line x1="339.20" y1="191.10" x2="339.20" y2="211.70" stroke="#333" stroke-width="1.2" stroke-linecap="butt"/>
<line x1="339.20" y1="218.10" x2="339.20" y2="241.10" stroke="#333" stroke-width="1.2" stroke-linecap="butt"/>
<line x1="339.20" y1="266.00" x2="339.20" y2="276.40" stroke="#333" stroke-width="1.2" stroke-linecap="butt"/>
<line x1="332.70" y1="191.10" x2="345.70" y2="191.10" stroke="#333" stroke-width="1.3" stroke-linecap="butt"/>
<line x1="332.70" y1="276.40" x2="345.70" y2="276.40" stroke="#333" stroke-width="1.3" stroke-linecap="butt"/>
<line x1="326.00" y1="255.00" x2="352.60" y2="255.00" stroke="#161616" stroke-width="1.5" stroke-linecap="butt"/>
<circle cx="339.20" cy="191.10" r="1.32" fill="#ad001b"/>
<circle cx="339.20" cy="194.80" r="1.32" fill="#ad001b"/>
<circle cx="338.00" cy="209.80" r="1.32" fill="#ad001b"/>
<circle cx="340.50" cy="211.40" r="1.32" fill="#ad001b"/>
<circle cx="339.20" cy="220.00" r="1.32" fill="#ad001b"/>
<circle cx="339.20" cy="232.50" r="1.32" fill="#ad001b"/>
<circle cx="339.20" cy="240.60" r="1.32" fill="#ad001b"/>
<circle cx="336.80" cy="243.50" r="1.32" fill="#ad001b"/>
<circle cx="339.20" cy="243.00" r="1.32" fill="#ad001b"/>
<circle cx="341.60" cy="243.00" r="1.32" fill="#ad001b"/>
<circle cx="339.20" cy="247.30" r="1.32" fill="#ad001b"/>
<circle cx="336.80" cy="254.20" r="1.32" fill="#ad001b"/>
<circle cx="339.20" cy="254.70" r="1.32" fill="#ad001b"/>
<circle cx="341.60" cy="254.70" r="1.32" fill="#ad001b"/>
<circle cx="336.80" cy="260.60" r="1.32" fill="#ad001b"/>
<circle cx="339.20" cy="261.40" r="1.32" fill="#ad001b"/>
<circle cx="341.60" cy="260.20" r="1.32" fill="#ad001b"/>
<circle cx="338.00" cy="264.70" r="1.32" fill="#ad001b"/>
<circle cx="340.50" cy="265.50" r="1.32" fill="#ad001b"/>
<circle cx="342.00" cy="266.00" r="1.32" fill="#ad001b"/>
<circle cx="336.10" cy="267.90" r="1.32" fill="#ad001b"/>
<circle cx="338.00" cy="268.70" r="1.32" fill="#ad001b"/>
<circle cx="340.50" cy="269.50" r="1.32" fill="#ad001b"/>
<circle cx="338.00" cy="270.80" r="1.32" fill="#ad001b"/>
<circle cx="340.50" cy="273.00" r="1.32" fill="#ad001b"/>
<circle cx="339.20" cy="276.40" r="1.32" fill="#ad001b"/>
<text x="24.60" y="407.60" font-size="8.5" text-anchor="start" fill="#2a2a2a" font-weight="normal" textLength="84.80" lengthAdjust="spacingAndGlyphs" transform="rotate(-90 24.60 407.60)" stroke="#2a2a2a" stroke-width="0.15">Percent change from baseline</text>
<text x="82.60" y="315.10" font-size="8.7" text-anchor="start" fill="#1a1a1a" font-weight="normal" textLength="67.80" lengthAdjust="spacingAndGlyphs" stroke="#1a1a1a" stroke-width="0.12">CD8+ na&#239;ve T-cells</text>
<line x1="48.40" y1="320.70" x2="48.40" y2="340.90" stroke="#1a1a1a" stroke-width="1.3" stroke-linecap="butt"/>
<line x1="48.40" y1="348.30" x2="48.40" y2="411.05" stroke="#1a1a1a" stroke-width="1.3" stroke-linecap="butt"/>
<line x1="45.60" y1="340.90" x2="51.70" y2="340.90" stroke="#1a1a1a" stroke-width="1.3" stroke-linecap="butt"/>
<line x1="45.60" y1="348.30" x2="51.70" y2="348.30" stroke="#1a1a1a" stroke-width="1.3" stroke-linecap="butt"/>
<line x1="47.75" y1="410.40" x2="185.00" y2="410.40" stroke="#1a1a1a" stroke-width="1.4" stroke-linecap="butt"/>
<line x1="45.10" y1="322.80" x2="48.40" y2="322.80" stroke="#1a1a1a" stroke-width="1.2" stroke-linecap="butt"/>
<text x="42.20" y="324.90" font-size="5.9" text-anchor="end" fill="#222" font-weight="normal" stroke="#222" stroke-width="0.15">800</text>
<line x1="45.10" y1="328.90" x2="48.40" y2="328.90" stroke="#1a1a1a" stroke-width="1.2" stroke-linecap="butt"/>
<text x="42.20" y="331.00" font-size="5.9" text-anchor="end" fill="#222" font-weight="normal" stroke="#222" stroke-width="0.15">700</text>
<line x1="45.10" y1="334.80" x2="48.40" y2="334.80" stroke="#1a1a1a" stroke-width="1.2" stroke-linecap="butt"/>
<text x="42.20" y="336.90" font-size="5.9" text-anchor="end" fill="#222" font-weight="normal" stroke="#222" stroke-width="0.15">600</text>
<line x1="45.10" y1="340.70" x2="48.40" y2="340.70" stroke="#1a1a1a" stroke-width="1.2" stroke-linecap="butt"/>
<text x="42.20" y="342.80" font-size="5.9" text-anchor="end" fill="#222" font-weight="normal" stroke="#222" stroke-width="0.15">500</text>
<line x1="45.10" y1="360.40" x2="48.40" y2="360.40" stroke="#1a1a1a" stroke-width="1.2" stroke-linecap="butt"/>
<text x="42.20" y="362.50" font-size="5.9" text-anchor="end" fill="#222" font-weight="normal" stroke="#222" stroke-width="0.15">100</text>
<line x1="45.10" y1="385.40" x2="48.40" y2="385.40" stroke="#1a1a1a" stroke-width="1.2" stroke-linecap="butt"/>
<text x="42.20" y="387.50" font-size="5.9" text-anchor="end" fill="#222" font-weight="normal" stroke="#222" stroke-width="0.15">0</text>
<line x1="45.10" y1="410.10" x2="48.40" y2="410.10" stroke="#1a1a1a" stroke-width="1.2" stroke-linecap="butt"/>
<text x="42.20" y="412.20" font-size="5.9" text-anchor="end" fill="#222" font-weight="normal" stroke="#222" stroke-width="0.15">-100</text>
<line x1="75.70" y1="410.40" x2="75.70" y2="413.20" stroke="#1a1a1a" stroke-width="1.2" stroke-linecap="butt"/>
<text x="75.70" y="422.30" font-size="6.3" text-anchor="middle" fill="#383838" font-weight="normal" textLength="25.50" lengthAdjust="spacingAndGlyphs" stroke="#383838" stroke-width="0.15">Screening</text>
<line x1="116.50" y1="410.40" x2="116.50" y2="413.20" stroke="#1a1a1a" stroke-width="1.2" stroke-linecap="butt"/>
<text x="116.50" y="422.30" font-size="6.3" text-anchor="middle" fill="#383838" font-weight="normal" textLength="18.60" lengthAdjust="spacingAndGlyphs" stroke="#383838" stroke-width="0.15">C1D15</text>
<line x1="157.40" y1="410.40" x2="157.40" y2="413.20" stroke="#1a1a1a" stroke-width="1.2" stroke-linecap="butt"/>
<text x="157.40" y="422.30" font-size="6.3" text-anchor="middle" fill="#383838" font-weight="normal" textLength="18.60" lengthAdjust="spacingAndGlyphs" stroke="#383838" stroke-width="0.15">C2D15</text>
<line x1="63.00" y1="385.40" x2="88.10" y2="385.40" stroke="#a3001b" stroke-width="2.4" stroke-linecap="round"/>
<rect x="103.00" y="384.90" width="27.10" height="15.00" fill="#dcb0ac"/>
<line x1="116.60" y1="351.50" x2="116.60" y2="384.90" stroke="#333" stroke-width="1.2" stroke-linecap="butt"/>
<line x1="116.60" y1="399.90" x2="116.60" y2="408.10" stroke="#333" stroke-width="1.2" stroke-linecap="butt"/>
<line x1="109.90" y1="351.50" x2="123.30" y2="351.50" stroke="#333" stroke-width="1.3" stroke-linecap="butt"/>
<line x1="109.90" y1="408.10" x2="123.30" y2="408.10" stroke="#333" stroke-width="1.3" stroke-linecap="butt"/>
<line x1="103.00" y1="393.20" x2="130.10" y2="393.20" stroke="#161616" stroke-width="1.5" stroke-linecap="butt"/>
<circle cx="116.60" cy="351.50" r="1.32" fill="#ad001b"/>
<circle cx="116.60" cy="359.50" r="1.32" fill="#ad001b"/>
<circle cx="116.60" cy="366.40" r="1.32" fill="#ad001b"/>
<circle cx="114.60" cy="372.50" r="1.32" fill="#ad001b"/>
<circle cx="118.50" cy="373.40" r="1.32" fill="#ad001b"/>
<circle cx="114.60" cy="375.80" r="1.32" fill="#ad001b"/>
<circle cx="114.60" cy="378.90" r="1.32" fill="#ad001b"/>
<circle cx="118.50" cy="378.50" r="1.32" fill="#ad001b"/>
<circle cx="118.50" cy="380.60" r="1.32" fill="#ad001b"/>
<circle cx="118.50" cy="382.50" r="1.32" fill="#ad001b"/>
<circle cx="110.80" cy="384.90" r="1.32" fill="#ad001b"/>
<circle cx="114.50" cy="384.20" r="1.32" fill="#ad001b"/>
<circle cx="118.50" cy="385.80" r="1.32" fill="#ad001b"/>
<circle cx="122.20" cy="387.10" r="1.32" fill="#ad001b"/>
<circle cx="114.50" cy="387.30" r="1.32" fill="#ad001b"/>
<circle cx="112.60" cy="390.50" r="1.32" fill="#ad001b"/>
<circle cx="116.60" cy="390.20" r="1.32" fill="#ad001b"/>
<circle cx="120.30" cy="389.80" r="1.32" fill="#ad001b"/>
<circle cx="112.60" cy="391.70" r="1.32" fill="#ad001b"/>
<circle cx="116.60" cy="391.40" r="1.32" fill="#ad001b"/>
<circle cx="104.90" cy="392.20" r="1.32" fill="#ad001b"/>
<circle cx="112.60" cy="392.90" r="1.32" fill="#ad001b"/>
<circle cx="124.30" cy="392.90" r="1.32" fill="#ad001b"/>
<circle cx="128.00" cy="393.40" r="1.32" fill="#ad001b"/>
<circle cx="108.60" cy="394.00" r="1.32" fill="#ad001b"/>
<circle cx="120.30" cy="393.80" r="1.32" fill="#ad001b"/>
<circle cx="110.80" cy="395.90" r="1.32" fill="#ad001b"/>
<circle cx="122.20" cy="395.70" r="1.32" fill="#ad001b"/>
<circle cx="114.50" cy="396.60" r="1.32" fill="#ad001b"/>
<circle cx="116.60" cy="397.80" r="1.32" fill="#ad001b"/>
<circle cx="118.50" cy="396.90" r="1.32" fill="#ad001b"/>
<circle cx="108.60" cy="398.20" r="1.32" fill="#ad001b"/>
<circle cx="124.30" cy="398.80" r="1.32" fill="#ad001b"/>
<circle cx="112.60" cy="399.70" r="1.32" fill="#ad001b"/>
<circle cx="114.50" cy="401.20" r="1.32" fill="#ad001b"/>
<circle cx="118.50" cy="401.50" r="1.32" fill="#ad001b"/>
<circle cx="120.30" cy="400.00" r="1.32" fill="#ad001b"/>
<circle cx="122.20" cy="401.80" r="1.32" fill="#ad001b"/>
<circle cx="126.20" cy="402.50" r="1.32" fill="#ad001b"/>
<circle cx="106.80" cy="403.40" r="1.32" fill="#ad001b"/>
<circle cx="110.80" cy="402.80" r="1.32" fill="#ad001b"/>
<circle cx="110.80" cy="405.80" r="1.32" fill="#ad001b"/>
<circle cx="114.50" cy="406.20" r="1.32" fill="#ad001b"/>
<circle cx="118.50" cy="406.20" r="1.32" fill="#ad001b"/>
<circle cx="122.50" cy="408.30" r="1.32" fill="#ad001b"/>
<rect x="144.00" y="367.00" width="27.00" height="33.70" fill="#dcb0ac"/>
<line x1="157.30" y1="323.10" x2="157.30" y2="340.50" stroke="#333" stroke-width="1.2" stroke-linecap="butt"/>
<line x1="157.30" y1="348.20" x2="157.30" y2="367.00" stroke="#333" stroke-width="1.2" stroke-linecap="butt"/>
<line x1="157.30" y1="400.70" x2="157.30" y2="409.60" stroke="#333" stroke-width="1.2" stroke-linecap="butt"/>
<line x1="150.70" y1="323.10" x2="163.90" y2="323.10" stroke="#333" stroke-width="1.3" stroke-linecap="butt"/>
<line x1="150.70" y1="409.60" x2="163.90" y2="409.60" stroke="#333" stroke-width="1.3" stroke-linecap="butt"/>
<line x1="144.00" y1="391.00" x2="171.00" y2="391.00" stroke="#161616" stroke-width="1.5" stroke-linecap="butt"/>
<circle cx="157.30" cy="323.10" r="1.32" fill="#ad001b"/>
<circle cx="156.00" cy="351.70" r="1.32" fill="#ad001b"/>
<circle cx="158.50" cy="352.50" r="1.32" fill="#ad001b"/>
<circle cx="156.00" cy="356.20" r="1.32" fill="#ad001b"/>
<circle cx="158.50" cy="357.30" r="1.32" fill="#ad001b"/>
<circle cx="158.50" cy="364.90" r="1.32" fill="#ad001b"/>
<circle cx="156.00" cy="366.50" r="1.32" fill="#ad001b"/>
<circle cx="156.00" cy="372.60" r="1.32" fill="#ad001b"/>
<circle cx="158.50" cy="372.60" r="1.32" fill="#ad001b"/>
<circle cx="156.00" cy="375.80" r="1.32" fill="#ad001b"/>
<circle cx="158.50" cy="375.80" r="1.32" fill="#ad001b"/>
<circle cx="157.30" cy="379.80" r="1.32" fill="#ad001b"/>
<circle cx="155.20" cy="386.20" r="1.32" fill="#ad001b"/>
<circle cx="157.70" cy="387.00" r="1.32" fill="#ad001b"/>
<circle cx="160.00" cy="387.80" r="1.32" fill="#ad001b"/>
<circle cx="155.20" cy="390.20" r="1.32" fill="#ad001b"/>
<circle cx="159.30" cy="391.50" r="1.32" fill="#ad001b"/>
<circle cx="154.40" cy="393.40" r="1.32" fill="#ad001b"/>
<circle cx="156.90" cy="394.20" r="1.32" fill="#ad001b"/>
<circle cx="159.30" cy="394.70" r="1.32" fill="#ad001b"/>
<circle cx="160.90" cy="393.10" r="1.32" fill="#ad001b"/>
<circle cx="154.40" cy="395.80" r="1.32" fill="#ad001b"/>
<circle cx="157.70" cy="396.70" r="1.32" fill="#ad001b"/>
<circle cx="160.00" cy="395.80" r="1.32" fill="#ad001b"/>
<circle cx="156.00" cy="398.30" r="1.32" fill="#ad001b"/>
<circle cx="159.30" cy="399.90" r="1.32" fill="#ad001b"/>
<circle cx="155.20" cy="401.50" r="1.32" fill="#ad001b"/>
<circle cx="160.00" cy="401.10" r="1.32" fill="#ad001b"/>
<circle cx="155.20" cy="405.50" r="1.32" fill="#ad001b"/>
<circle cx="157.70" cy="406.30" r="1.32" fill="#ad001b"/>
<circle cx="159.30" cy="407.10" r="1.32" fill="#ad001b"/>
<circle cx="157.70" cy="409.30" r="1.32" fill="#ad001b"/>
<text x="207.70" y="407.60" font-size="8.5" text-anchor="start" fill="#2a2a2a" font-weight="normal" textLength="85.90" lengthAdjust="spacingAndGlyphs" transform="rotate(-90 207.70 407.60)" stroke="#2a2a2a" stroke-width="0.15">Percent change from baseline</text>
<text x="261.30" y="313.40" font-size="8.7" text-anchor="start" fill="#1a1a1a" font-weight="normal" textLength="78.70" lengthAdjust="spacingAndGlyphs" stroke="#1a1a1a" stroke-width="0.12">CD8+ memory T-cells</text>
<line x1="232.40" y1="319.10" x2="232.40" y2="341.30" stroke="#1a1a1a" stroke-width="1.3" stroke-linecap="butt"/>
<line x1="232.40" y1="348.30" x2="232.40" y2="411.05" stroke="#1a1a1a" stroke-width="1.3" stroke-linecap="butt"/>
<line x1="229.60" y1="341.30" x2="235.70" y2="341.30" stroke="#1a1a1a" stroke-width="1.3" stroke-linecap="butt"/>
<line x1="229.60" y1="348.30" x2="235.70" y2="348.30" stroke="#1a1a1a" stroke-width="1.3" stroke-linecap="butt"/>
<line x1="231.75" y1="410.40" x2="368.90" y2="410.40" stroke="#1a1a1a" stroke-width="1.4" stroke-linecap="butt"/>
<line x1="229.10" y1="321.70" x2="232.40" y2="321.70" stroke="#1a1a1a" stroke-width="1.2" stroke-linecap="butt"/>
<text x="226.20" y="323.80" font-size="5.9" text-anchor="end" fill="#222" font-weight="normal" stroke="#222" stroke-width="0.15">5000</text>
<line x1="229.10" y1="335.90" x2="232.40" y2="335.90" stroke="#1a1a1a" stroke-width="1.2" stroke-linecap="butt"/>
<text x="226.20" y="338.00" font-size="5.9" text-anchor="end" fill="#222" font-weight="normal" stroke="#222" stroke-width="0.15">2500</text>
<line x1="229.10" y1="360.90" x2="232.40" y2="360.90" stroke="#1a1a1a" stroke-width="1.2" stroke-linecap="butt"/>
<text x="226.20" y="363.00" font-size="5.9" text-anchor="end" fill="#222" font-weight="normal" stroke="#222" stroke-width="0.15">1000</text>
<line x1="229.10" y1="382.60" x2="232.40" y2="382.60" stroke="#1a1a1a" stroke-width="1.2" stroke-linecap="butt"/>
<text x="226.20" y="384.70" font-size="5.9" text-anchor="end" fill="#222" font-weight="normal" stroke="#222" stroke-width="0.15">500</text>
<line x1="229.10" y1="404.30" x2="232.40" y2="404.30" stroke="#1a1a1a" stroke-width="1.2" stroke-linecap="butt"/>
<text x="226.20" y="406.40" font-size="5.9" text-anchor="end" fill="#222" font-weight="normal" stroke="#222" stroke-width="0.15">0</text>
<line x1="259.30" y1="410.40" x2="259.30" y2="413.20" stroke="#1a1a1a" stroke-width="1.2" stroke-linecap="butt"/>
<text x="259.30" y="422.30" font-size="6.3" text-anchor="middle" fill="#383838" font-weight="normal" textLength="25.50" lengthAdjust="spacingAndGlyphs" stroke="#383838" stroke-width="0.15">Screening</text>
<line x1="300.40" y1="410.40" x2="300.40" y2="413.20" stroke="#1a1a1a" stroke-width="1.2" stroke-linecap="butt"/>
<text x="300.40" y="422.30" font-size="6.3" text-anchor="middle" fill="#383838" font-weight="normal" textLength="18.60" lengthAdjust="spacingAndGlyphs" stroke="#383838" stroke-width="0.15">C1D15</text>
<line x1="341.70" y1="410.40" x2="341.70" y2="413.20" stroke="#1a1a1a" stroke-width="1.2" stroke-linecap="butt"/>
<text x="341.70" y="422.30" font-size="6.3" text-anchor="middle" fill="#383838" font-weight="normal" textLength="18.60" lengthAdjust="spacingAndGlyphs" stroke="#383838" stroke-width="0.15">C2D15</text>
<line x1="246.60" y1="404.30" x2="272.10" y2="404.30" stroke="#a3001b" stroke-width="2.4" stroke-linecap="round"/>
<rect x="287.20" y="385.10" width="27.20" height="14.00" fill="#dcb0ac"/>
<line x1="300.40" y1="323.50" x2="300.40" y2="342.00" stroke="#333" stroke-width="1.2" stroke-linecap="butt"/>
<line x1="300.40" y1="348.90" x2="300.40" y2="385.10" stroke="#333" stroke-width="1.2" stroke-linecap="butt"/>
<line x1="300.40" y1="399.10" x2="300.40" y2="407.00" stroke="#333" stroke-width="1.2" stroke-linecap="butt"/>
<line x1="293.70" y1="323.50" x2="307.10" y2="323.50" stroke="#333" stroke-width="1.3" stroke-linecap="butt"/>
<line x1="293.70" y1="407.00" x2="307.10" y2="407.00" stroke="#333" stroke-width="1.3" stroke-linecap="butt"/>
<line x1="287.20" y1="395.10" x2="314.40" y2="395.10" stroke="#161616" stroke-width="1.5" stroke-linecap="butt"/>
<circle cx="298.80" cy="325.60" r="1.32" fill="#ad001b"/>
<circle cx="302.80" cy="323.20" r="1.32" fill="#ad001b"/>
<circle cx="300.40" cy="332.40" r="1.32" fill="#ad001b"/>
<circle cx="300.40" cy="336.50" r="1.32" fill="#ad001b"/>
<circle cx="300.40" cy="340.40" r="1.32" fill="#ad001b"/>
<circle cx="300.40" cy="350.00" r="1.32" fill="#ad001b"/>
<circle cx="300.40" cy="363.00" r="1.32" fill="#ad001b"/>
<circle cx="300.40" cy="367.00" r="1.32" fill="#ad001b"/>
<circle cx="298.40" cy="377.80" r="1.32" fill="#ad001b"/>
<circle cx="302.50" cy="376.20" r="1.32" fill="#ad001b"/>
<circle cx="298.60" cy="378.30" r="1.32" fill="#ad001b"/>
<circle cx="300.50" cy="383.80" r="1.32" fill="#ad001b"/>
<circle cx="296.60" cy="387.10" r="1.32" fill="#ad001b"/>
<circle cx="300.50" cy="387.40" r="1.32" fill="#ad001b"/>
<circle cx="304.40" cy="387.70" r="1.32" fill="#ad001b"/>
<circle cx="296.60" cy="389.40" r="1.32" fill="#ad001b"/>
<circle cx="300.50" cy="390.90" r="1.32" fill="#ad001b"/>
<circle cx="304.40" cy="390.90" r="1.32" fill="#ad001b"/>
<circle cx="290.80" cy="392.80" r="1.32" fill="#ad001b"/>
<circle cx="294.80" cy="392.60" r="1.32" fill="#ad001b"/>
<circle cx="298.60" cy="393.90" r="1.32" fill="#ad001b"/>
<circle cx="302.50" cy="392.80" r="1.32" fill="#ad001b"/>
<circle cx="306.30" cy="394.70" r="1.32" fill="#ad001b"/>
<circle cx="310.20" cy="395.10" r="1.32" fill="#ad001b"/>
<circle cx="300.50" cy="396.30" r="1.32" fill="#ad001b"/>
<circle cx="304.40" cy="396.20" r="1.32" fill="#ad001b"/>
<circle cx="288.80" cy="398.80" r="1.32" fill="#ad001b"/>
<circle cx="292.60" cy="398.20" r="1.32" fill="#ad001b"/>
<circle cx="292.60" cy="399.80" r="1.32" fill="#ad001b"/>
<circle cx="296.60" cy="398.30" r="1.32" fill="#ad001b"/>
<circle cx="296.60" cy="400.20" r="1.32" fill="#ad001b"/>
<circle cx="304.40" cy="398.90" r="1.32" fill="#ad001b"/>
<circle cx="308.30" cy="397.00" r="1.32" fill="#ad001b"/>
<circle cx="308.30" cy="400.50" r="1.32" fill="#ad001b"/>
<circle cx="312.20" cy="400.00" r="1.32" fill="#ad001b"/>
<circle cx="296.60" cy="401.70" r="1.32" fill="#ad001b"/>
<circle cx="300.50" cy="401.10" r="1.32" fill="#ad001b"/>
<circle cx="300.50" cy="402.30" r="1.32" fill="#ad001b"/>
<circle cx="290.80" cy="404.80" r="1.32" fill="#ad001b"/>
<circle cx="294.80" cy="404.80" r="1.32" fill="#ad001b"/>
<circle cx="298.60" cy="404.80" r="1.32" fill="#ad001b"/>
<circle cx="302.50" cy="404.60" r="1.32" fill="#ad001b"/>
<circle cx="304.40" cy="404.20" r="1.32" fill="#ad001b"/>
<circle cx="306.50" cy="406.00" r="1.32" fill="#ad001b"/>
<circle cx="310.20" cy="406.90" r="1.32" fill="#ad001b"/>
<rect x="328.30" y="375.90" width="26.70" height="25.20" fill="#dcb0ac"/>
<line x1="341.70" y1="320.80" x2="341.70" y2="375.90" stroke="#333" stroke-width="1.2" stroke-linecap="butt"/>
<line x1="341.70" y1="401.10" x2="341.70" y2="408.60" stroke="#333" stroke-width="1.2" stroke-linecap="butt"/>
<line x1="335.10" y1="320.80" x2="348.30" y2="320.80" stroke="#333" stroke-width="1.3" stroke-linecap="butt"/>
<line x1="335.10" y1="408.60" x2="348.30" y2="408.60" stroke="#333" stroke-width="1.3" stroke-linecap="butt"/>
<line x1="328.30" y1="390.30" x2="355.00" y2="390.30" stroke="#161616" stroke-width="1.5" stroke-linecap="butt"/>
<circle cx="341.70" cy="320.80" r="1.32" fill="#ad001b"/>
<circle cx="341.70" cy="341.40" r="1.32" fill="#ad001b"/>
<circle cx="341.70" cy="348.60" r="1.32" fill="#ad001b"/>
<circle cx="341.70" cy="354.80" r="1.32" fill="#ad001b"/>
<circle cx="341.70" cy="362.90" r="1.32" fill="#ad001b"/>
<circle cx="341.70" cy="366.10" r="1.32" fill="#ad001b"/>
<circle cx="339.20" cy="376.70" r="1.32" fill="#ad001b"/>
<circle cx="344.10" cy="375.70" r="1.32" fill="#ad001b"/>
<circle cx="344.10" cy="381.00" r="1.32" fill="#ad001b"/>
<circle cx="339.20" cy="383.40" r="1.32" fill="#ad001b"/>
<circle cx="339.20" cy="385.00" r="1.32" fill="#ad001b"/>
<circle cx="344.10" cy="386.60" r="1.32" fill="#ad001b"/>
<circle cx="344.10" cy="388.60" r="1.32" fill="#ad001b"/>
<circle cx="339.20" cy="390.60" r="1.32" fill="#ad001b"/>
<circle cx="344.10" cy="392.70" r="1.32" fill="#ad001b"/>
<circle cx="339.20" cy="395.00" r="1.32" fill="#ad001b"/>
<circle cx="344.10" cy="396.30" r="1.32" fill="#ad001b"/>
<circle cx="339.20" cy="398.20" r="1.32" fill="#ad001b"/>
<circle cx="344.10" cy="399.10" r="1.32" fill="#ad001b"/>
<circle cx="330.40" cy="401.40" r="1.32" fill="#ad001b"/>
<circle cx="334.90" cy="401.90" r="1.32" fill="#ad001b"/>
<circle cx="339.20" cy="401.90" r="1.32" fill="#ad001b"/>
<circle cx="344.10" cy="400.30" r="1.32" fill="#ad001b"/>
<circle cx="348.90" cy="399.50" r="1.32" fill="#ad001b"/>
<circle cx="353.20" cy="401.10" r="1.32" fill="#ad001b"/>
<circle cx="339.20" cy="403.50" r="1.32" fill="#ad001b"/>
<circle cx="344.10" cy="405.10" r="1.32" fill="#ad001b"/>
<circle cx="341.70" cy="408.80" r="1.32" fill="#ad001b"/>
<line x1="427.70" y1="135.10" x2="479.60" y2="135.10" stroke="#222" stroke-width="1.3" stroke-linecap="butt"/>
<text x="453.30" y="143.50" font-size="6.2" text-anchor="middle" fill="#222" font-weight="normal" textLength="14.20" lengthAdjust="spacingAndGlyphs" stroke="#222" stroke-width="0.15">C1D1</text>
<rect x="50.7" y="465.7" width="80.4" height="99.2" fill="none" stroke="#111" stroke-width="1.3"/>
<text x="91.10" y="461.90" font-size="8.3" text-anchor="middle" fill="#1a1a1a" font-weight="normal" textLength="34.50" lengthAdjust="spacingAndGlyphs" stroke="#1a1a1a" stroke-width="0.1">101-1037</text>
<line x1="47.20" y1="559.90" x2="50.70" y2="559.90" stroke="#1a1a1a" stroke-width="1.2" stroke-linecap="butt"/>
<text x="44.40" y="562.10" font-size="6.2" text-anchor="end" fill="#222" font-weight="normal" stroke="#222" stroke-width="0.15">0</text>
<line x1="47.20" y1="524.95" x2="50.70" y2="524.95" stroke="#1a1a1a" stroke-width="1.2" stroke-linecap="butt"/>
<text x="44.40" y="527.15" font-size="6.2" text-anchor="end" fill="#222" font-weight="normal" stroke="#222" stroke-width="0.15">1</text>
<line x1="47.20" y1="490.00" x2="50.70" y2="490.00" stroke="#1a1a1a" stroke-width="1.2" stroke-linecap="butt"/>
<text x="44.40" y="492.20" font-size="6.2" text-anchor="end" fill="#222" font-weight="normal" stroke="#222" stroke-width="0.15">2</text>
<line x1="55.00" y1="564.90" x2="55.00" y2="568.20" stroke="#1a1a1a" stroke-width="1.2" stroke-linecap="butt"/>
<text x="55.00" y="576.70" font-size="6.2" text-anchor="middle" fill="#222" font-weight="normal" stroke="#222" stroke-width="0.15">0</text>
<line x1="75.60" y1="564.90" x2="75.60" y2="568.20" stroke="#1a1a1a" stroke-width="1.2" stroke-linecap="butt"/>
<text x="75.60" y="576.70" font-size="6.2" text-anchor="middle" fill="#222" font-weight="normal" stroke="#222" stroke-width="0.15">1</text>
<line x1="96.20" y1="564.90" x2="96.20" y2="568.20" stroke="#1a1a1a" stroke-width="1.2" stroke-linecap="butt"/>
<text x="96.20" y="576.70" font-size="6.2" text-anchor="middle" fill="#222" font-weight="normal" stroke="#222" stroke-width="0.15">2</text>
<line x1="116.80" y1="564.90" x2="116.80" y2="568.20" stroke="#1a1a1a" stroke-width="1.2" stroke-linecap="butt"/>
<text x="116.80" y="576.70" font-size="6.2" text-anchor="middle" fill="#222" font-weight="normal" stroke="#222" stroke-width="0.15">3</text>
<text x="90.90" y="588.40" font-size="8.2" text-anchor="middle" fill="#222" font-weight="normal" textLength="67.90" lengthAdjust="spacingAndGlyphs" stroke="#222" stroke-width="0.15">Baseline log expression</text>
<text x="35.80" y="556.20" font-size="8.2" text-anchor="start" fill="#222" font-weight="normal" textLength="82.00" lengthAdjust="spacingAndGlyphs" transform="rotate(-90 35.80 556.20)" stroke="#222" stroke-width="0.15">On-treatment log expression</text>
<g fill="#4f7ecb" fill-opacity="0.85">
<circle cx="61.20" cy="559.90" r="1.25"/>
<circle cx="64.83" cy="559.90" r="1.25"/>
<circle cx="67.40" cy="559.90" r="1.25"/>
<circle cx="69.40" cy="559.90" r="1.25"/>
<circle cx="71.03" cy="559.90" r="1.25"/>
<circle cx="72.41" cy="559.90" r="1.25"/>
<circle cx="73.60" cy="559.90" r="1.25"/>
<circle cx="74.66" cy="559.90" r="1.25"/>
<circle cx="75.60" cy="559.90" r="1.25"/>
<circle cx="76.45" cy="559.90" r="1.25"/>
<circle cx="77.23" cy="559.90" r="1.25"/>
<circle cx="77.95" cy="559.90" r="1.25"/>
<circle cx="78.61" cy="559.90" r="1.25"/>
<circle cx="79.23" cy="559.90" r="1.25"/>
<circle cx="79.80" cy="559.90" r="1.25"/>
<circle cx="80.35" cy="559.90" r="1.25"/>
<circle cx="80.86" cy="559.90" r="1.25"/>
<circle cx="81.34" cy="559.90" r="1.25"/>
<circle cx="81.80" cy="559.90" r="1.25"/>
<circle cx="82.24" cy="559.90" r="1.25"/>
<circle cx="82.65" cy="559.90" r="1.25"/>
<circle cx="83.05" cy="559.90" r="1.25"/>
<circle cx="83.43" cy="559.90" r="1.25"/>
<circle cx="83.80" cy="559.90" r="1.25"/>
<circle cx="84.15" cy="559.90" r="1.25"/>
<circle cx="84.49" cy="559.90" r="1.25"/>
<circle cx="84.81" cy="559.90" r="1.25"/>
<circle cx="85.13" cy="559.90" r="1.25"/>
<circle cx="85.43" cy="559.90" r="1.25"/>
<circle cx="85.72" cy="559.90" r="1.25"/>
<circle cx="86.01" cy="559.90" r="1.25"/>
<circle cx="86.28" cy="559.90" r="1.25"/>
<circle cx="86.55" cy="559.90" r="1.25"/>
<circle cx="86.81" cy="559.90" r="1.25"/>
<circle cx="87.06" cy="559.90" r="1.25"/>
<circle cx="87.30" cy="559.90" r="1.25"/>
<circle cx="87.54" cy="559.90" r="1.25"/>
<circle cx="87.78" cy="559.90" r="1.25"/>
<circle cx="88.00" cy="559.90" r="1.25"/>
<circle cx="88.22" cy="559.90" r="1.25"/>
<circle cx="88.44" cy="559.90" r="1.25"/>
<circle cx="88.65" cy="559.90" r="1.25"/>
<circle cx="88.86" cy="559.90" r="1.25"/>
<circle cx="89.06" cy="559.90" r="1.25"/>
<circle cx="89.25" cy="559.90" r="1.25"/>
<circle cx="89.45" cy="559.90" r="1.25"/>
<circle cx="89.63" cy="559.90" r="1.25"/>
<circle cx="89.82" cy="559.90" r="1.25"/>
<circle cx="90.00" cy="559.90" r="1.25"/>
<circle cx="90.18" cy="559.90" r="1.25"/>
<circle cx="90.35" cy="559.90" r="1.25"/>
<circle cx="90.52" cy="559.90" r="1.25"/>
<circle cx="90.69" cy="559.90" r="1.25"/>
<circle cx="90.85" cy="559.90" r="1.25"/>
<circle cx="91.01" cy="559.90" r="1.25"/>
<circle cx="91.17" cy="559.90" r="1.25"/>
<circle cx="91.33" cy="559.90" r="1.25"/>
<circle cx="91.48" cy="559.90" r="1.25"/>
<circle cx="91.63" cy="559.90" r="1.25"/>
<circle cx="91.78" cy="559.90" r="1.25"/>
<circle cx="91.92" cy="559.90" r="1.25"/>
<circle cx="92.07" cy="559.90" r="1.25"/>
<circle cx="92.21" cy="559.90" r="1.25"/>
<circle cx="92.35" cy="559.90" r="1.25"/>
<circle cx="92.48" cy="559.90" r="1.25"/>
<circle cx="92.62" cy="559.90" r="1.25"/>
<circle cx="92.75" cy="559.90" r="1.25"/>
<circle cx="92.88" cy="559.90" r="1.25"/>
<circle cx="93.01" cy="559.90" r="1.25"/>
<circle cx="93.14" cy="559.90" r="1.25"/>
<circle cx="93.26" cy="559.90" r="1.25"/>
<circle cx="93.74" cy="559.90" r="1.25"/>
<circle cx="93.98" cy="559.90" r="1.25"/>
<circle cx="94.31" cy="559.90" r="1.25"/>
<circle cx="94.53" cy="559.90" r="1.25"/>
<circle cx="95.45" cy="559.90" r="1.25"/>
<circle cx="96.20" cy="559.90" r="1.25"/>
<circle cx="96.46" cy="559.90" r="1.25"/>
<circle cx="96.55" cy="559.90" r="1.25"/>
<circle cx="96.72" cy="559.90" r="1.25"/>
<circle cx="97.05" cy="559.90" r="1.25"/>
<circle cx="97.21" cy="559.90" r="1.25"/>
<circle cx="97.29" cy="559.90" r="1.25"/>
<circle cx="55.00" cy="549.38" r="1.25"/>
<circle cx="55.00" cy="543.22" r="1.25"/>
<circle cx="55.00" cy="538.86" r="1.25"/>
<circle cx="55.00" cy="535.47" r="1.25"/>
<circle cx="55.00" cy="532.70" r="1.25"/>
<circle cx="55.00" cy="530.36" r="1.25"/>
<circle cx="61.20" cy="549.38" r="1.25"/>
<circle cx="64.83" cy="549.38" r="1.25"/>
<circle cx="74.66" cy="549.38" r="1.25"/>
<circle cx="75.60" cy="549.38" r="1.25"/>
<circle cx="76.45" cy="549.38" r="1.25"/>
<circle cx="77.23" cy="549.38" r="1.25"/>
<circle cx="77.95" cy="549.38" r="1.25"/>
<circle cx="78.61" cy="549.38" r="1.25"/>
<circle cx="79.23" cy="549.38" r="1.25"/>
<circle cx="79.80" cy="549.38" r="1.25"/>
<circle cx="80.35" cy="549.38" r="1.25"/>
<circle cx="80.86" cy="549.38" r="1.25"/>
<circle cx="81.34" cy="549.38" r="1.25"/>
<circle cx="81.80" cy="549.38" r="1.25"/>
<circle cx="82.24" cy="549.38" r="1.25"/>
<circle cx="82.65" cy="549.38" r="1.25"/>
<circle cx="83.05" cy="549.38" r="1.25"/>
<circle cx="83.43" cy="549.38" r="1.25"/>
<circle cx="83.80" cy="549.38" r="1.25"/>
<circle cx="84.15" cy="549.38" r="1.25"/>
<circle cx="84.49" cy="549.38" r="1.25"/>
<circle cx="84.81" cy="549.38" r="1.25"/>
<circle cx="85.13" cy="549.38" r="1.25"/>
<circle cx="85.43" cy="549.38" r="1.25"/>
<circle cx="85.72" cy="549.38" r="1.25"/>
<circle cx="86.01" cy="549.38" r="1.25"/>
<circle cx="86.28" cy="549.38" r="1.25"/>
<circle cx="86.55" cy="549.38" r="1.25"/>
<circle cx="86.81" cy="549.38" r="1.25"/>
<circle cx="87.06" cy="549.38" r="1.25"/>
<circle cx="87.30" cy="549.38" r="1.25"/>
<circle cx="87.54" cy="549.38" r="1.25"/>
<circle cx="87.78" cy="549.38" r="1.25"/>
<circle cx="88.00" cy="549.38" r="1.25"/>
<circle cx="88.22" cy="549.38" r="1.25"/>
<circle cx="88.44" cy="549.38" r="1.25"/>
<circle cx="88.65" cy="549.38" r="1.25"/>
<circle cx="88.86" cy="549.38" r="1.25"/>
<circle cx="89.06" cy="549.38" r="1.25"/>
<circle cx="89.25" cy="549.38" r="1.25"/>
<circle cx="89.45" cy="549.38" r="1.25"/>
<circle cx="89.63" cy="549.38" r="1.25"/>
<circle cx="89.82" cy="549.38" r="1.25"/>
<circle cx="90.00" cy="549.38" r="1.25"/>
<circle cx="90.18" cy="549.38" r="1.25"/>
<circle cx="90.35" cy="549.38" r="1.25"/>
<circle cx="90.52" cy="549.38" r="1.25"/>
<circle cx="90.69" cy="549.38" r="1.25"/>
<circle cx="90.85" cy="549.38" r="1.25"/>
<circle cx="91.01" cy="549.38" r="1.25"/>
<circle cx="91.17" cy="549.38" r="1.25"/>
<circle cx="91.33" cy="549.38" r="1.25"/>
<circle cx="91.48" cy="549.38" r="1.25"/>
<circle cx="91.63" cy="549.38" r="1.25"/>
<circle cx="91.78" cy="549.38" r="1.25"/>
<circle cx="91.92" cy="549.38" r="1.25"/>
<circle cx="92.07" cy="549.38" r="1.25"/>
<circle cx="92.21" cy="549.38" r="1.25"/>
<circle cx="92.35" cy="549.38" r="1.25"/>
<circle cx="92.48" cy="549.38" r="1.25"/>
<circle cx="92.62" cy="549.38" r="1.25"/>
<circle cx="92.75" cy="549.38" r="1.25"/>
<circle cx="92.88" cy="549.38" r="1.25"/>
<circle cx="93.01" cy="549.38" r="1.25"/>
<circle cx="93.14" cy="549.38" r="1.25"/>
<circle cx="93.26" cy="549.38" r="1.25"/>
<circle cx="93.38" cy="549.38" r="1.25"/>
<circle cx="93.51" cy="549.38" r="1.25"/>
<circle cx="93.63" cy="549.38" r="1.25"/>
<circle cx="93.74" cy="549.38" r="1.25"/>
<circle cx="93.86" cy="549.38" r="1.25"/>
<circle cx="93.98" cy="549.38" r="1.25"/>
<circle cx="94.09" cy="549.38" r="1.25"/>
<circle cx="94.20" cy="549.38" r="1.25"/>
<circle cx="94.31" cy="549.38" r="1.25"/>
<circle cx="94.42" cy="549.38" r="1.25"/>
<circle cx="94.53" cy="549.38" r="1.25"/>
<circle cx="94.64" cy="549.38" r="1.25"/>
<circle cx="94.75" cy="549.38" r="1.25"/>
<circle cx="94.85" cy="549.38" r="1.25"/>
<circle cx="94.95" cy="549.38" r="1.25"/>
<circle cx="95.06" cy="549.38" r="1.25"/>
<circle cx="95.16" cy="549.38" r="1.25"/>
<circle cx="95.65" cy="549.38" r="1.25"/>
<circle cx="96.20" cy="549.38" r="1.25"/>
<circle cx="96.46" cy="549.38" r="1.25"/>
<circle cx="97.13" cy="549.38" r="1.25"/>
<circle cx="97.37" cy="549.38" r="1.25"/>
<circle cx="97.45" cy="549.38" r="1.25"/>
<circle cx="103.62" cy="549.38" r="1.25"/>
<circle cx="61.20" cy="543.22" r="1.25"/>
<circle cx="64.83" cy="543.22" r="1.25"/>
<circle cx="67.40" cy="543.22" r="1.25"/>
<circle cx="69.40" cy="543.22" r="1.25"/>
<circle cx="71.03" cy="543.22" r="1.25"/>
<circle cx="72.41" cy="543.22" r="1.25"/>
<circle cx="78.61" cy="543.22" r="1.25"/>
<circle cx="79.23" cy="543.22" r="1.25"/>
<circle cx="79.80" cy="543.22" r="1.25"/>
<circle cx="80.35" cy="543.22" r="1.25"/>
<circle cx="80.86" cy="543.22" r="1.25"/>
<circle cx="81.34" cy="543.22" r="1.25"/>
<circle cx="81.80" cy="543.22" r="1.25"/>
<circle cx="82.24" cy="543.22" r="1.25"/>
<circle cx="82.65" cy="543.22" r="1.25"/>
<circle cx="83.05" cy="543.22" r="1.25"/>
<circle cx="83.43" cy="543.22" r="1.25"/>
<circle cx="83.80" cy="543.22" r="1.25"/>
<circle cx="84.15" cy="543.22" r="1.25"/>
<circle cx="84.49" cy="543.22" r="1.25"/>
<circle cx="84.81" cy="543.22" r="1.25"/>
<circle cx="85.13" cy="543.22" r="1.25"/>
<circle cx="85.43" cy="543.22" r="1.25"/>
<circle cx="85.72" cy="543.22" r="1.25"/>
<circle cx="86.01" cy="543.22" r="1.25"/>
<circle cx="86.28" cy="543.22" r="1.25"/>
<circle cx="86.55" cy="543.22" r="1.25"/>
<circle cx="86.81" cy="543.22" r="1.25"/>
<circle cx="87.06" cy="543.22" r="1.25"/>
<circle cx="87.30" cy="543.22" r="1.25"/>
<circle cx="87.54" cy="543.22" r="1.25"/>
<circle cx="87.78" cy="543.22" r="1.25"/>
<circle cx="88.00" cy="543.22" r="1.25"/>
<circle cx="88.22" cy="543.22" r="1.25"/>
<circle cx="88.44" cy="543.22" r="1.25"/>
<circle cx="88.65" cy="543.22" r="1.25"/>
<circle cx="88.86" cy="543.22" r="1.25"/>
<circle cx="89.06" cy="543.22" r="1.25"/>
<circle cx="89.25" cy="543.22" r="1.25"/>
<circle cx="89.45" cy="543.22" r="1.25"/>
<circle cx="89.63" cy="543.22" r="1.25"/>
<circle cx="89.82" cy="543.22" r="1.25"/>
<circle cx="90.00" cy="543.22" r="1.25"/>
<circle cx="90.18" cy="543.22" r="1.25"/>
<circle cx="90.35" cy="543.22" r="1.25"/>
<circle cx="90.52" cy="543.22" r="1.25"/>
<circle cx="90.69" cy="543.22" r="1.25"/>
<circle cx="90.85" cy="543.22" r="1.25"/>
<circle cx="91.01" cy="543.22" r="1.25"/>
<circle cx="91.17" cy="543.22" r="1.25"/>
<circle cx="91.33" cy="543.22" r="1.25"/>
<circle cx="91.48" cy="543.22" r="1.25"/>
<circle cx="91.63" cy="543.22" r="1.25"/>
<circle cx="91.78" cy="543.22" r="1.25"/>
<circle cx="91.92" cy="543.22" r="1.25"/>
<circle cx="92.07" cy="543.22" r="1.25"/>
<circle cx="92.21" cy="543.22" r="1.25"/>
<circle cx="92.35" cy="543.22" r="1.25"/>
<circle cx="92.48" cy="543.22" r="1.25"/>
<circle cx="92.62" cy="543.22" r="1.25"/>
<circle cx="92.75" cy="543.22" r="1.25"/>
<circle cx="92.88" cy="543.22" r="1.25"/>
<circle cx="93.01" cy="543.22" r="1.25"/>
<circle cx="93.38" cy="543.22" r="1.25"/>
<circle cx="93.63" cy="543.22" r="1.25"/>
<circle cx="94.09" cy="543.22" r="1.25"/>
<circle cx="94.31" cy="543.22" r="1.25"/>
<circle cx="95.16" cy="543.22" r="1.25"/>
<circle cx="95.45" cy="543.22" r="1.25"/>
<circle cx="98.67" cy="543.22" r="1.25"/>
<circle cx="61.20" cy="538.86" r="1.25"/>
<circle cx="64.83" cy="538.86" r="1.25"/>
<circle cx="67.40" cy="538.86" r="1.25"/>
<circle cx="69.40" cy="538.86" r="1.25"/>
<circle cx="71.03" cy="538.86" r="1.25"/>
<circle cx="72.41" cy="538.86" r="1.25"/>
<circle cx="73.60" cy="538.86" r="1.25"/>
<circle cx="74.66" cy="538.86" r="1.25"/>
<circle cx="75.60" cy="538.86" r="1.25"/>
<circle cx="76.45" cy="538.86" r="1.25"/>
<circle cx="77.23" cy="538.86" r="1.25"/>
<circle cx="81.34" cy="538.86" r="1.25"/>
<circle cx="81.80" cy="538.86" r="1.25"/>
<circle cx="82.24" cy="538.86" r="1.25"/>
<circle cx="82.65" cy="538.86" r="1.25"/>
<circle cx="83.05" cy="538.86" r="1.25"/>
<circle cx="83.43" cy="538.86" r="1.25"/>
<circle cx="83.80" cy="538.86" r="1.25"/>
<circle cx="84.15" cy="538.86" r="1.25"/>
<circle cx="84.49" cy="538.86" r="1.25"/>
<circle cx="84.81" cy="538.86" r="1.25"/>
<circle cx="85.13" cy="538.86" r="1.25"/>
<circle cx="85.43" cy="538.86" r="1.25"/>
<circle cx="85.72" cy="538.86" r="1.25"/>
<circle cx="86.01" cy="538.86" r="1.25"/>
<circle cx="86.28" cy="538.86" r="1.25"/>
<circle cx="86.55" cy="538.86" r="1.25"/>
<circle cx="86.81" cy="538.86" r="1.25"/>
<circle cx="87.06" cy="538.86" r="1.25"/>
<circle cx="87.30" cy="538.86" r="1.25"/>
<circle cx="87.54" cy="538.86" r="1.25"/>
<circle cx="87.78" cy="538.86" r="1.25"/>
<circle cx="88.00" cy="538.86" r="1.25"/>
<circle cx="88.22" cy="538.86" r="1.25"/>
<circle cx="88.44" cy="538.86" r="1.25"/>
<circle cx="88.65" cy="538.86" r="1.25"/>
<circle cx="88.86" cy="538.86" r="1.25"/>
<circle cx="89.06" cy="538.86" r="1.25"/>
<circle cx="89.25" cy="538.86" r="1.25"/>
<circle cx="89.45" cy="538.86" r="1.25"/>
<circle cx="89.63" cy="538.86" r="1.25"/>
<circle cx="89.82" cy="538.86" r="1.25"/>
<circle cx="90.00" cy="538.86" r="1.25"/>
<circle cx="90.18" cy="538.86" r="1.25"/>
<circle cx="90.35" cy="538.86" r="1.25"/>
<circle cx="90.52" cy="538.86" r="1.25"/>
<circle cx="90.69" cy="538.86" r="1.25"/>
<circle cx="90.85" cy="538.86" r="1.25"/>
<circle cx="91.01" cy="538.86" r="1.25"/>
<circle cx="91.17" cy="538.86" r="1.25"/>
<circle cx="91.33" cy="538.86" r="1.25"/>
<circle cx="91.48" cy="538.86" r="1.25"/>
<circle cx="91.63" cy="538.86" r="1.25"/>
<circle cx="91.78" cy="538.86" r="1.25"/>
<circle cx="91.92" cy="538.86" r="1.25"/>
<circle cx="92.07" cy="538.86" r="1.25"/>
<circle cx="92.21" cy="538.86" r="1.25"/>
<circle cx="92.35" cy="538.86" r="1.25"/>
<circle cx="92.48" cy="538.86" r="1.25"/>
<circle cx="92.62" cy="538.86" r="1.25"/>
<circle cx="92.75" cy="538.86" r="1.25"/>
<circle cx="92.88" cy="538.86" r="1.25"/>
<circle cx="93.01" cy="538.86" r="1.25"/>
<circle cx="93.14" cy="538.86" r="1.25"/>
<circle cx="93.26" cy="538.86" r="1.25"/>
<circle cx="93.38" cy="538.86" r="1.25"/>
<circle cx="93.51" cy="538.86" r="1.25"/>
<circle cx="93.63" cy="538.86" r="1.25"/>
<circle cx="93.74" cy="538.86" r="1.25"/>
<circle cx="93.86" cy="538.86" r="1.25"/>
<circle cx="93.98" cy="538.86" r="1.25"/>
<circle cx="94.09" cy="538.86" r="1.25"/>
<circle cx="94.20" cy="538.86" r="1.25"/>
<circle cx="94.31" cy="538.86" r="1.25"/>
<circle cx="94.42" cy="538.86" r="1.25"/>
<circle cx="94.53" cy="538.86" r="1.25"/>
<circle cx="94.64" cy="538.86" r="1.25"/>
<circle cx="94.75" cy="538.86" r="1.25"/>
<circle cx="94.85" cy="538.86" r="1.25"/>
<circle cx="94.95" cy="538.86" r="1.25"/>
<circle cx="95.06" cy="538.86" r="1.25"/>
<circle cx="95.16" cy="538.86" r="1.25"/>
<circle cx="95.26" cy="538.86" r="1.25"/>
<circle cx="95.36" cy="538.86" r="1.25"/>
<circle cx="95.45" cy="538.86" r="1.25"/>
<circle cx="95.55" cy="538.86" r="1.25"/>
<circle cx="95.65" cy="538.86" r="1.25"/>
<circle cx="95.74" cy="538.86" r="1.25"/>
<circle cx="95.83" cy="538.86" r="1.25"/>
<circle cx="95.93" cy="538.86" r="1.25"/>
<circle cx="96.02" cy="538.86" r="1.25"/>
<circle cx="96.11" cy="538.86" r="1.25"/>
<circle cx="96.20" cy="538.86" r="1.25"/>
<circle cx="96.55" cy="538.86" r="1.25"/>
<circle cx="96.89" cy="538.86" r="1.25"/>
<circle cx="97.13" cy="538.86" r="1.25"/>
<circle cx="97.37" cy="538.86" r="1.25"/>
<circle cx="97.83" cy="538.86" r="1.25"/>
<circle cx="98.05" cy="538.86" r="1.25"/>
<circle cx="98.12" cy="538.86" r="1.25"/>
<circle cx="98.20" cy="538.86" r="1.25"/>
<circle cx="98.82" cy="538.86" r="1.25"/>
<circle cx="98.88" cy="538.86" r="1.25"/>
<circle cx="99.34" cy="538.86" r="1.25"/>
<circle cx="103.00" cy="538.86" r="1.25"/>
<circle cx="61.20" cy="535.47" r="1.25"/>
<circle cx="64.83" cy="535.47" r="1.25"/>
<circle cx="67.40" cy="535.47" r="1.25"/>
<circle cx="69.40" cy="535.47" r="1.25"/>
<circle cx="71.03" cy="535.47" r="1.25"/>
<circle cx="72.41" cy="535.47" r="1.25"/>
<circle cx="73.60" cy="535.47" r="1.25"/>
<circle cx="74.66" cy="535.47" r="1.25"/>
<circle cx="75.60" cy="535.47" r="1.25"/>
<circle cx="76.45" cy="535.47" r="1.25"/>
<circle cx="77.23" cy="535.47" r="1.25"/>
<circle cx="77.95" cy="535.47" r="1.25"/>
<circle cx="78.61" cy="535.47" r="1.25"/>
<circle cx="79.23" cy="535.47" r="1.25"/>
<circle cx="79.80" cy="535.47" r="1.25"/>
<circle cx="80.35" cy="535.47" r="1.25"/>
<circle cx="82.24" cy="535.47" r="1.25"/>
<circle cx="82.65" cy="535.47" r="1.25"/>
<circle cx="83.05" cy="535.47" r="1.25"/>
<circle cx="83.43" cy="535.47" r="1.25"/>
<circle cx="83.80" cy="535.47" r="1.25"/>
<circle cx="84.15" cy="535.47" r="1.25"/>
<circle cx="84.49" cy="535.47" r="1.25"/>
<circle cx="84.81" cy="535.47" r="1.25"/>
<circle cx="85.13" cy="535.47" r="1.25"/>
<circle cx="85.43" cy="535.47" r="1.25"/>
<circle cx="85.72" cy="535.47" r="1.25"/>
<circle cx="86.01" cy="535.47" r="1.25"/>
<circle cx="86.28" cy="535.47" r="1.25"/>
<circle cx="86.55" cy="535.47" r="1.25"/>
<circle cx="86.81" cy="535.47" r="1.25"/>
<circle cx="87.06" cy="535.47" r="1.25"/>
<circle cx="87.30" cy="535.47" r="1.25"/>
<circle cx="87.54" cy="535.47" r="1.25"/>
<circle cx="87.78" cy="535.47" r="1.25"/>
<circle cx="88.00" cy="535.47" r="1.25"/>
<circle cx="88.22" cy="535.47" r="1.25"/>
<circle cx="88.44" cy="535.47" r="1.25"/>
<circle cx="88.65" cy="535.47" r="1.25"/>
<circle cx="88.86" cy="535.47" r="1.25"/>
<circle cx="89.06" cy="535.47" r="1.25"/>
<circle cx="89.25" cy="535.47" r="1.25"/>
<circle cx="89.45" cy="535.47" r="1.25"/>
<circle cx="89.63" cy="535.47" r="1.25"/>
<circle cx="89.82" cy="535.47" r="1.25"/>
<circle cx="90.00" cy="535.47" r="1.25"/>
<circle cx="90.18" cy="535.47" r="1.25"/>
<circle cx="90.35" cy="535.47" r="1.25"/>
<circle cx="90.52" cy="535.47" r="1.25"/>
<circle cx="90.69" cy="535.47" r="1.25"/>
<circle cx="90.85" cy="535.47" r="1.25"/>
<circle cx="91.01" cy="535.47" r="1.25"/>
<circle cx="91.17" cy="535.47" r="1.25"/>
<circle cx="91.33" cy="535.47" r="1.25"/>
<circle cx="91.48" cy="535.47" r="1.25"/>
<circle cx="91.63" cy="535.47" r="1.25"/>
<circle cx="91.78" cy="535.47" r="1.25"/>
<circle cx="91.92" cy="535.47" r="1.25"/>
<circle cx="92.07" cy="535.47" r="1.25"/>
<circle cx="92.21" cy="535.47" r="1.25"/>
<circle cx="92.35" cy="535.47" r="1.25"/>
<circle cx="92.48" cy="535.47" r="1.25"/>
<circle cx="92.62" cy="535.47" r="1.25"/>
<circle cx="92.75" cy="535.47" r="1.25"/>
<circle cx="92.88" cy="535.47" r="1.25"/>
<circle cx="93.01" cy="535.47" r="1.25"/>
<circle cx="93.14" cy="535.47" r="1.25"/>
<circle cx="93.26" cy="535.47" r="1.25"/>
<circle cx="93.38" cy="535.47" r="1.25"/>
<circle cx="93.51" cy="535.47" r="1.25"/>
<circle cx="93.63" cy="535.47" r="1.25"/>
<circle cx="93.74" cy="535.47" r="1.25"/>
<circle cx="93.86" cy="535.47" r="1.25"/>
<circle cx="93.98" cy="535.47" r="1.25"/>
<circle cx="94.09" cy="535.47" r="1.25"/>
<circle cx="95.36" cy="535.47" r="1.25"/>
<circle cx="96.11" cy="535.47" r="1.25"/>
<circle cx="96.64" cy="535.47" r="1.25"/>
<circle cx="96.81" cy="535.47" r="1.25"/>
<circle cx="96.89" cy="535.47" r="1.25"/>
<circle cx="97.05" cy="535.47" r="1.25"/>
<circle cx="97.13" cy="535.47" r="1.25"/>
<circle cx="97.45" cy="535.47" r="1.25"/>
<circle cx="97.53" cy="535.47" r="1.25"/>
<circle cx="61.20" cy="532.70" r="1.25"/>
<circle cx="64.83" cy="532.70" r="1.25"/>
<circle cx="67.40" cy="532.70" r="1.25"/>
<circle cx="69.40" cy="532.70" r="1.25"/>
<circle cx="71.03" cy="532.70" r="1.25"/>
<circle cx="72.41" cy="532.70" r="1.25"/>
<circle cx="73.60" cy="532.70" r="1.25"/>
<circle cx="74.66" cy="532.70" r="1.25"/>
<circle cx="75.60" cy="532.70" r="1.25"/>
<circle cx="76.45" cy="532.70" r="1.25"/>
<circle cx="77.23" cy="532.70" r="1.25"/>
<circle cx="77.95" cy="532.70" r="1.25"/>
<circle cx="78.61" cy="532.70" r="1.25"/>
<circle cx="79.23" cy="532.70" r="1.25"/>
<circle cx="79.80" cy="532.70" r="1.25"/>
<circle cx="80.35" cy="532.70" r="1.25"/>
<circle cx="80.86" cy="532.70" r="1.25"/>
<circle cx="81.34" cy="532.70" r="1.25"/>
<circle cx="81.80" cy="532.70" r="1.25"/>
<circle cx="82.24" cy="532.70" r="1.25"/>
<circle cx="82.65" cy="532.70" r="1.25"/>
<circle cx="83.05" cy="532.70" r="1.25"/>
<circle cx="84.49" cy="532.70" r="1.25"/>
<circle cx="84.81" cy="532.70" r="1.25"/>
<circle cx="85.13" cy="532.70" r="1.25"/>
<circle cx="85.43" cy="532.70" r="1.25"/>
<circle cx="85.72" cy="532.70" r="1.25"/>
<circle cx="86.01" cy="532.70" r="1.25"/>
<circle cx="86.28" cy="532.70" r="1.25"/>
<circle cx="86.55" cy="532.70" r="1.25"/>
<circle cx="86.81" cy="532.70" r="1.25"/>
<circle cx="87.06" cy="532.70" r="1.25"/>
<circle cx="87.30" cy="532.70" r="1.25"/>
<circle cx="87.54" cy="532.70" r="1.25"/>
<circle cx="87.78" cy="532.70" r="1.25"/>
<circle cx="88.00" cy="532.70" r="1.25"/>
<circle cx="88.22" cy="532.70" r="1.25"/>
<circle cx="88.44" cy="532.70" r="1.25"/>
<circle cx="88.65" cy="532.70" r="1.25"/>
<circle cx="88.86" cy="532.70" r="1.25"/>
<circle cx="89.06" cy="532.70" r="1.25"/>
<circle cx="89.25" cy="532.70" r="1.25"/>
<circle cx="89.45" cy="532.70" r="1.25"/>
<circle cx="89.63" cy="532.70" r="1.25"/>
<circle cx="89.82" cy="532.70" r="1.25"/>
<circle cx="90.00" cy="532.70" r="1.25"/>
<circle cx="90.18" cy="532.70" r="1.25"/>
<circle cx="90.35" cy="532.70" r="1.25"/>
<circle cx="90.52" cy="532.70" r="1.25"/>
<circle cx="90.69" cy="532.70" r="1.25"/>
<circle cx="90.85" cy="532.70" r="1.25"/>
<circle cx="91.01" cy="532.70" r="1.25"/>
<circle cx="91.17" cy="532.70" r="1.25"/>
<circle cx="91.33" cy="532.70" r="1.25"/>
<circle cx="91.48" cy="532.70" r="1.25"/>
<circle cx="91.63" cy="532.70" r="1.25"/>
<circle cx="91.78" cy="532.70" r="1.25"/>
<circle cx="91.92" cy="532.70" r="1.25"/>
<circle cx="92.07" cy="532.70" r="1.25"/>
<circle cx="95.16" cy="532.70" r="1.25"/>
<circle cx="95.74" cy="532.70" r="1.25"/>
<circle cx="61.20" cy="530.36" r="1.25"/>
<circle cx="64.83" cy="530.36" r="1.25"/>
<circle cx="67.40" cy="530.36" r="1.25"/>
<circle cx="69.40" cy="530.36" r="1.25"/>
<circle cx="71.03" cy="530.36" r="1.25"/>
<circle cx="72.41" cy="530.36" r="1.25"/>
<circle cx="73.60" cy="530.36" r="1.25"/>
<circle cx="74.66" cy="530.36" r="1.25"/>
<circle cx="75.60" cy="530.36" r="1.25"/>
<circle cx="76.45" cy="530.36" r="1.25"/>
<circle cx="77.23" cy="530.36" r="1.25"/>
<circle cx="77.95" cy="530.36" r="1.25"/>
<circle cx="78.61" cy="530.36" r="1.25"/>
<circle cx="79.23" cy="530.36" r="1.25"/>
<circle cx="79.80" cy="530.36" r="1.25"/>
<circle cx="80.35" cy="530.36" r="1.25"/>
<circle cx="80.86" cy="530.36" r="1.25"/>
<circle cx="81.34" cy="530.36" r="1.25"/>
<circle cx="81.80" cy="530.36" r="1.25"/>
<circle cx="82.24" cy="530.36" r="1.25"/>
<circle cx="82.65" cy="530.36" r="1.25"/>
<circle cx="83.05" cy="530.36" r="1.25"/>
<circle cx="83.43" cy="530.36" r="1.25"/>
<circle cx="83.80" cy="530.36" r="1.25"/>
<circle cx="84.15" cy="530.36" r="1.25"/>
<circle cx="84.49" cy="530.36" r="1.25"/>
<circle cx="84.81" cy="530.36" r="1.25"/>
<circle cx="85.13" cy="530.36" r="1.25"/>
<circle cx="85.43" cy="530.36" r="1.25"/>
<circle cx="85.72" cy="530.36" r="1.25"/>
<circle cx="86.01" cy="530.36" r="1.25"/>
<circle cx="86.28" cy="530.36" r="1.25"/>
<circle cx="86.55" cy="530.36" r="1.25"/>
<circle cx="86.81" cy="530.36" r="1.25"/>
<circle cx="87.06" cy="530.36" r="1.25"/>
<circle cx="87.30" cy="530.36" r="1.25"/>
<circle cx="87.54" cy="530.36" r="1.25"/>
<circle cx="87.78" cy="530.36" r="1.25"/>
<circle cx="88.44" cy="530.36" r="1.25"/>
<circle cx="88.65" cy="530.36" r="1.25"/>
<circle cx="89.06" cy="530.36" r="1.25"/>
<circle cx="90.18" cy="530.36" r="1.25"/>
<circle cx="90.35" cy="530.36" r="1.25"/>
<circle cx="90.85" cy="530.36" r="1.25"/>
<circle cx="91.92" cy="530.36" r="1.25"/>
<circle cx="92.62" cy="530.36" r="1.25"/>
<circle cx="92.88" cy="530.36" r="1.25"/>
<circle cx="93.01" cy="530.36" r="1.25"/>
<circle cx="93.38" cy="530.36" r="1.25"/>
<circle cx="93.86" cy="530.36" r="1.25"/>
<circle cx="55.00" cy="528.34" r="1.25"/>
<circle cx="55.00" cy="526.55" r="1.25"/>
<circle cx="55.00" cy="524.95" r="1.25"/>
<circle cx="55.00" cy="523.50" r="1.25"/>
<circle cx="55.00" cy="522.18" r="1.25"/>
<circle cx="55.00" cy="520.97" r="1.25"/>
<circle cx="55.00" cy="519.84" r="1.25"/>
<circle cx="55.00" cy="518.80" r="1.25"/>
<circle cx="55.00" cy="517.82" r="1.25"/>
<circle cx="61.20" cy="528.34" r="1.25"/>
<circle cx="61.20" cy="526.55" r="1.25"/>
<circle cx="61.20" cy="524.95" r="1.25"/>
<circle cx="61.20" cy="523.50" r="1.25"/>
<circle cx="61.20" cy="522.18" r="1.25"/>
<circle cx="61.20" cy="520.97" r="1.25"/>
<circle cx="55.00" cy="513.42" r="1.25"/>
<circle cx="55.00" cy="510.27" r="1.25"/>
<circle cx="55.00" cy="509.22" r="1.25"/>
<circle cx="55.00" cy="501.53" r="1.25"/>
<circle cx="55.00" cy="493.50" r="1.25"/>
<circle cx="55.00" cy="492.45" r="1.25"/>
<circle cx="55.00" cy="478.47" r="1.25"/>
<circle cx="60.77" cy="514.46" r="1.25"/>
<circle cx="61.20" cy="518.31" r="1.25"/>
<circle cx="64.83" cy="528.34" r="1.25"/>
<circle cx="67.40" cy="528.34" r="1.25"/>
<circle cx="69.40" cy="528.34" r="1.25"/>
<circle cx="71.03" cy="528.34" r="1.25"/>
<circle cx="72.41" cy="528.34" r="1.25"/>
<circle cx="75.60" cy="528.34" r="1.25"/>
<circle cx="76.45" cy="528.34" r="1.25"/>
<circle cx="77.23" cy="528.34" r="1.25"/>
<circle cx="79.23" cy="528.34" r="1.25"/>
<circle cx="79.80" cy="528.34" r="1.25"/>
<circle cx="80.35" cy="528.34" r="1.25"/>
<circle cx="81.34" cy="528.34" r="1.25"/>
<circle cx="83.80" cy="528.34" r="1.25"/>
<circle cx="84.49" cy="528.34" r="1.25"/>
<circle cx="85.13" cy="528.34" r="1.25"/>
<circle cx="85.43" cy="528.34" r="1.25"/>
<circle cx="87.06" cy="528.34" r="1.25"/>
<circle cx="87.30" cy="528.34" r="1.25"/>
<circle cx="88.44" cy="528.34" r="1.25"/>
<circle cx="90.52" cy="528.34" r="1.25"/>
<circle cx="90.69" cy="528.34" r="1.25"/>
<circle cx="91.01" cy="528.34" r="1.25"/>
<circle cx="91.63" cy="528.34" r="1.25"/>
<circle cx="92.07" cy="528.34" r="1.25"/>
<circle cx="92.62" cy="528.34" r="1.25"/>
<circle cx="92.75" cy="528.34" r="1.25"/>
<circle cx="93.14" cy="528.34" r="1.25"/>
<circle cx="93.26" cy="528.34" r="1.25"/>
<circle cx="93.74" cy="528.34" r="1.25"/>
<circle cx="94.31" cy="528.34" r="1.25"/>
<circle cx="94.53" cy="528.34" r="1.25"/>
<circle cx="94.95" cy="528.34" r="1.25"/>
<circle cx="95.06" cy="528.34" r="1.25"/>
<circle cx="64.83" cy="526.55" r="1.25"/>
<circle cx="67.40" cy="526.55" r="1.25"/>
<circle cx="69.40" cy="526.55" r="1.25"/>
<circle cx="71.03" cy="526.55" r="1.25"/>
<circle cx="72.41" cy="526.55" r="1.25"/>
<circle cx="73.60" cy="526.55" r="1.25"/>
<circle cx="74.66" cy="526.55" r="1.25"/>
<circle cx="75.60" cy="526.55" r="1.25"/>
<circle cx="76.45" cy="526.55" r="1.25"/>
<circle cx="77.23" cy="526.55" r="1.25"/>
<circle cx="77.95" cy="526.55" r="1.25"/>
<circle cx="78.61" cy="526.55" r="1.25"/>
<circle cx="79.80" cy="526.55" r="1.25"/>
<circle cx="80.86" cy="526.55" r="1.25"/>
<circle cx="83.05" cy="526.55" r="1.25"/>
<circle cx="83.80" cy="526.55" r="1.25"/>
<circle cx="85.72" cy="526.55" r="1.25"/>
<circle cx="86.28" cy="526.55" r="1.25"/>
<circle cx="87.06" cy="526.55" r="1.25"/>
<circle cx="87.30" cy="526.55" r="1.25"/>
<circle cx="88.00" cy="526.55" r="1.25"/>
<circle cx="88.65" cy="526.55" r="1.25"/>
<circle cx="89.06" cy="526.55" r="1.25"/>
<circle cx="89.25" cy="526.55" r="1.25"/>
<circle cx="89.63" cy="526.55" r="1.25"/>
<circle cx="90.18" cy="526.55" r="1.25"/>
<circle cx="90.52" cy="526.55" r="1.25"/>
<circle cx="90.85" cy="526.55" r="1.25"/>
<circle cx="91.01" cy="526.55" r="1.25"/>
<circle cx="91.48" cy="526.55" r="1.25"/>
<circle cx="91.63" cy="526.55" r="1.25"/>
<circle cx="92.21" cy="526.55" r="1.25"/>
<circle cx="92.62" cy="526.55" r="1.25"/>
<circle cx="64.83" cy="524.95" r="1.25"/>
<circle cx="67.40" cy="524.95" r="1.25"/>
<circle cx="69.40" cy="524.95" r="1.25"/>
<circle cx="71.03" cy="524.95" r="1.25"/>
<circle cx="72.41" cy="524.95" r="1.25"/>
<circle cx="74.66" cy="524.95" r="1.25"/>
<circle cx="76.45" cy="524.95" r="1.25"/>
<circle cx="77.95" cy="524.95" r="1.25"/>
<circle cx="78.61" cy="524.95" r="1.25"/>
<circle cx="79.23" cy="524.95" r="1.25"/>
<circle cx="80.86" cy="524.95" r="1.25"/>
<circle cx="81.34" cy="524.95" r="1.25"/>
<circle cx="81.80" cy="524.95" r="1.25"/>
<circle cx="82.24" cy="524.95" r="1.25"/>
<circle cx="83.80" cy="524.95" r="1.25"/>
<circle cx="85.72" cy="524.95" r="1.25"/>
<circle cx="86.01" cy="524.95" r="1.25"/>
<circle cx="86.28" cy="524.95" r="1.25"/>
<circle cx="87.30" cy="524.95" r="1.25"/>
<circle cx="87.54" cy="524.95" r="1.25"/>
<circle cx="87.78" cy="524.95" r="1.25"/>
<circle cx="88.00" cy="524.95" r="1.25"/>
<circle cx="88.22" cy="524.95" r="1.25"/>
<circle cx="88.44" cy="524.95" r="1.25"/>
<circle cx="88.86" cy="524.95" r="1.25"/>
<circle cx="69.40" cy="523.39" r="1.25"/>
<circle cx="76.45" cy="523.38" r="1.25"/>
<circle cx="92.48" cy="523.74" r="1.25"/>
<circle cx="73.60" cy="523.84" r="1.25"/>
<circle cx="74.66" cy="523.80" r="1.25"/>
<circle cx="80.47" cy="523.17" r="1.25"/>
<circle cx="79.13" cy="523.63" r="1.25"/>
<circle cx="82.92" cy="523.65" r="1.25"/>
<circle cx="92.59" cy="523.35" r="1.25"/>
<circle cx="72.41" cy="523.68" r="1.25"/>
<circle cx="90.39" cy="523.20" r="1.25"/>
<circle cx="89.43" cy="523.55" r="1.25"/>
<circle cx="101.48" cy="523.85" r="1.25"/>
<circle cx="67.40" cy="523.31" r="1.25"/>
<circle cx="81.63" cy="522.50" r="1.25"/>
<circle cx="86.50" cy="521.84" r="1.25"/>
<circle cx="85.46" cy="522.29" r="1.25"/>
<circle cx="71.03" cy="522.48" r="1.25"/>
<circle cx="98.82" cy="522.19" r="1.25"/>
<circle cx="100.12" cy="522.49" r="1.25"/>
<circle cx="75.77" cy="522.50" r="1.25"/>
<circle cx="81.18" cy="522.49" r="1.25"/>
<circle cx="76.19" cy="522.25" r="1.25"/>
<circle cx="77.97" cy="522.50" r="1.25"/>
<circle cx="69.40" cy="521.85" r="1.25"/>
<circle cx="73.60" cy="522.18" r="1.25"/>
<circle cx="82.13" cy="520.95" r="1.25"/>
<circle cx="71.03" cy="521.10" r="1.25"/>
<circle cx="72.41" cy="520.94" r="1.25"/>
<circle cx="99.71" cy="520.90" r="1.25"/>
<circle cx="97.53" cy="521.17" r="1.25"/>
<circle cx="69.40" cy="520.94" r="1.25"/>
<circle cx="84.98" cy="520.92" r="1.25"/>
<circle cx="81.26" cy="520.88" r="1.25"/>
<circle cx="93.08" cy="520.68" r="1.25"/>
<circle cx="78.92" cy="521.00" r="1.25"/>
<circle cx="96.50" cy="521.16" r="1.25"/>
<circle cx="73.60" cy="519.97" r="1.25"/>
<circle cx="72.41" cy="519.65" r="1.25"/>
<circle cx="96.48" cy="519.97" r="1.25"/>
<circle cx="73.60" cy="520.14" r="1.25"/>
<circle cx="77.69" cy="520.13" r="1.25"/>
<circle cx="83.70" cy="519.79" r="1.25"/>
<circle cx="77.71" cy="520.15" r="1.25"/>
<circle cx="92.59" cy="520.16" r="1.25"/>
<circle cx="76.22" cy="519.99" r="1.25"/>
<circle cx="81.91" cy="520.12" r="1.25"/>
<circle cx="84.08" cy="518.93" r="1.25"/>
<circle cx="94.56" cy="518.76" r="1.25"/>
<circle cx="99.10" cy="518.69" r="1.25"/>
<circle cx="94.79" cy="518.74" r="1.25"/>
<circle cx="84.76" cy="518.57" r="1.25"/>
<circle cx="91.50" cy="518.48" r="1.25"/>
<circle cx="93.79" cy="518.65" r="1.25"/>
<circle cx="79.25" cy="518.58" r="1.25"/>
<circle cx="82.88" cy="519.05" r="1.25"/>
<circle cx="73.60" cy="518.05" r="1.25"/>
<circle cx="79.86" cy="517.69" r="1.25"/>
<circle cx="80.56" cy="518.12" r="1.25"/>
<circle cx="95.17" cy="517.78" r="1.25"/>
<circle cx="72.41" cy="518.13" r="1.25"/>
<circle cx="75.81" cy="517.92" r="1.25"/>
<circle cx="98.10" cy="517.50" r="1.25"/>
<circle cx="90.53" cy="518.00" r="1.25"/>
<circle cx="85.50" cy="516.99" r="1.25"/>
<circle cx="82.58" cy="517.24" r="1.25"/>
<circle cx="90.09" cy="516.67" r="1.25"/>
<circle cx="94.30" cy="517.18" r="1.25"/>
<circle cx="88.49" cy="517.13" r="1.25"/>
<circle cx="93.79" cy="516.93" r="1.25"/>
<circle cx="100.62" cy="515.82" r="1.25"/>
<circle cx="77.12" cy="516.16" r="1.25"/>
<circle cx="99.94" cy="516.06" r="1.25"/>
<circle cx="86.17" cy="516.07" r="1.25"/>
<circle cx="95.72" cy="515.72" r="1.25"/>
<circle cx="89.40" cy="514.88" r="1.25"/>
<circle cx="91.16" cy="515.48" r="1.25"/>
<circle cx="97.22" cy="515.26" r="1.25"/>
<circle cx="76.06" cy="514.87" r="1.25"/>
<circle cx="76.32" cy="514.38" r="1.25"/>
<circle cx="88.42" cy="514.16" r="1.25"/>
<circle cx="86.02" cy="514.63" r="1.25"/>
<circle cx="85.08" cy="513.90" r="1.25"/>
<circle cx="92.72" cy="513.79" r="1.25"/>
<circle cx="97.77" cy="513.16" r="1.25"/>
<circle cx="87.08" cy="513.16" r="1.25"/>
<circle cx="103.97" cy="512.07" r="1.25"/>
<circle cx="100.42" cy="512.23" r="1.25"/>
<circle cx="88.39" cy="511.91" r="1.25"/>
<circle cx="99.93" cy="511.67" r="1.25"/>
<circle cx="78.67" cy="511.27" r="1.25"/>
<circle cx="80.30" cy="510.89" r="1.25"/>
<circle cx="101.77" cy="510.66" r="1.25"/>
<circle cx="99.00" cy="510.57" r="1.25"/>
<circle cx="95.95" cy="509.62" r="1.25"/>
<circle cx="94.35" cy="509.66" r="1.25"/>
<circle cx="87.74" cy="509.66" r="1.25"/>
<circle cx="91.36" cy="509.26" r="1.25"/>
<circle cx="82.61" cy="508.87" r="1.25"/>
<circle cx="86.16" cy="509.12" r="1.25"/>
<circle cx="86.02" cy="508.36" r="1.25"/>
<circle cx="90.41" cy="508.13" r="1.25"/>
<circle cx="88.35" cy="507.44" r="1.25"/>
<circle cx="99.50" cy="507.48" r="1.25"/>
<circle cx="115.15" cy="469.73" r="1.25"/>
<circle cx="113.92" cy="473.22" r="1.25"/>
<circle cx="126.28" cy="476.37" r="1.25"/>
<circle cx="110.41" cy="483.36" r="1.25"/>
<circle cx="120.92" cy="484.76" r="1.25"/>
<circle cx="120.51" cy="484.06" r="1.25"/>
<circle cx="107.12" cy="487.90" r="1.25"/>
<circle cx="119.89" cy="489.30" r="1.25"/>
<circle cx="106.29" cy="491.75" r="1.25"/>
<circle cx="110.62" cy="492.80" r="1.25"/>
<circle cx="112.47" cy="493.50" r="1.25"/>
<circle cx="116.80" cy="491.75" r="1.25"/>
<circle cx="117.83" cy="491.05" r="1.25"/>
<circle cx="123.19" cy="491.40" r="1.25"/>
<circle cx="105.88" cy="498.74" r="1.25"/>
<circle cx="73.54" cy="500.48" r="1.25"/>
<circle cx="96.20" cy="500.14" r="1.25"/>
<circle cx="110.41" cy="505.38" r="1.25"/>
<circle cx="82.60" cy="503.63" r="1.25"/>
<circle cx="90.64" cy="503.63" r="1.25"/>
<circle cx="80.34" cy="507.47" r="1.25"/>
<circle cx="84.25" cy="507.47" r="1.25"/>
<circle cx="93.11" cy="508.87" r="1.25"/>
<circle cx="95.38" cy="510.27" r="1.25"/>
<circle cx="102.38" cy="503.28" r="1.25"/>
<circle cx="104.03" cy="501.88" r="1.25"/>
<circle cx="104.85" cy="504.68" r="1.25"/>
<circle cx="101.35" cy="507.47" r="1.25"/>
<circle cx="102.38" cy="510.97" r="1.25"/>
<circle cx="104.44" cy="512.72" r="1.25"/>
<circle cx="106.50" cy="514.46" r="1.25"/>
<circle cx="105.47" cy="517.96" r="1.25"/>
<circle cx="107.53" cy="521.45" r="1.25"/>
<circle cx="103.41" cy="524.95" r="1.25"/>
<circle cx="108.56" cy="526.70" r="1.25"/>
<circle cx="110.62" cy="524.95" r="1.25"/>
<circle cx="106.50" cy="530.19" r="1.25"/>
<circle cx="116.80" cy="532.64" r="1.25"/>
<circle cx="87.96" cy="510.97" r="1.25"/>
<circle cx="90.02" cy="509.22" r="1.25"/>
<circle cx="77.66" cy="512.72" r="1.25"/>
<circle cx="75.60" cy="514.46" r="1.25"/>
<circle cx="70.45" cy="516.21" r="1.25"/>
<circle cx="67.36" cy="514.46" r="1.25"/>
<circle cx="66.33" cy="517.96" r="1.25"/>
<circle cx="98.26" cy="514.46" r="1.25"/>
<circle cx="100.32" cy="512.72" r="1.25"/>
<circle cx="94.14" cy="512.72" r="1.25"/>
<circle cx="97.23" cy="516.21" r="1.25"/>
<circle cx="107.53" cy="509.22" r="1.25"/>
<circle cx="108.97" cy="511.67" r="1.25"/>
</g>
<g fill="#de3020">
<circle cx="67.40" cy="549.38" r="1.25"/>
<circle cx="69.40" cy="549.38" r="1.25"/>
<circle cx="71.03" cy="549.38" r="1.25"/>
<circle cx="72.41" cy="549.38" r="1.25"/>
<circle cx="73.60" cy="549.38" r="1.25"/>
<circle cx="73.60" cy="543.22" r="1.25"/>
<circle cx="74.66" cy="543.22" r="1.25"/>
<circle cx="75.60" cy="543.22" r="1.25"/>
<circle cx="76.45" cy="543.22" r="1.25"/>
<circle cx="77.23" cy="543.22" r="1.25"/>
<circle cx="77.95" cy="543.22" r="1.25"/>
<circle cx="77.95" cy="538.86" r="1.25"/>
<circle cx="78.61" cy="538.86" r="1.25"/>
<circle cx="79.23" cy="538.86" r="1.25"/>
<circle cx="79.80" cy="538.86" r="1.25"/>
<circle cx="80.35" cy="538.86" r="1.25"/>
<circle cx="80.86" cy="538.86" r="1.25"/>
<circle cx="81.57" cy="535.47" r="1.25"/>
<circle cx="84.05" cy="532.70" r="1.25"/>
<circle cx="84.87" cy="530.37" r="1.25"/>
<circle cx="85.49" cy="528.44" r="1.25"/>
<circle cx="86.52" cy="527.05" r="1.25"/>
<circle cx="89.20" cy="523.90" r="1.25"/>
<circle cx="90.43" cy="522.50" r="1.25"/>
<circle cx="91.46" cy="520.76" r="1.25"/>
<circle cx="92.70" cy="517.26" r="1.25"/>
<circle cx="97.85" cy="509.22" r="1.25"/>
<circle cx="98.88" cy="508.17" r="1.25"/>
</g>
<g fill="#69ad3a">
<circle cx="99.08" cy="559.90" r="1.3"/>
<circle cx="89.20" cy="538.86" r="1.3"/>
<circle cx="92.29" cy="538.86" r="1.3"/>
<circle cx="100.11" cy="518.31" r="1.3"/>
<circle cx="100.11" cy="522.50" r="1.3"/>
<circle cx="110.41" cy="498.39" r="1.3"/>
<circle cx="111.86" cy="497.34" r="1.3"/>
<circle cx="117.21" cy="494.19" r="1.3"/>
<circle cx="85.90" cy="526.70" r="1.3"/>
</g>
<ellipse cx="140.2" cy="468.8" rx="2.5" ry="2.0" fill="#9fb6e2"/>
<text x="146.20" y="470.80" font-size="6.3" text-anchor="start" fill="#2a2a2a" font-weight="normal" textLength="56.00" lengthAdjust="spacingAndGlyphs" stroke="#2a2a2a" stroke-width="0.08">Significantly changed</text>
<ellipse cx="140.2" cy="478.8" rx="2.5" ry="2.0" fill="#e0301e"/>
<text x="146.20" y="480.80" font-size="6.3" text-anchor="start" fill="#2a2a2a" font-weight="normal" textLength="67.00" lengthAdjust="spacingAndGlyphs" stroke="#2a2a2a" stroke-width="0.08">Not significantly changed</text>
<ellipse cx="140.2" cy="488.3" rx="2.5" ry="2.0" fill="#74b04a"/>
<text x="146.20" y="490.30" font-size="6.3" text-anchor="start" fill="#2a2a2a" font-weight="normal" textLength="42.50" lengthAdjust="spacingAndGlyphs" stroke="#2a2a2a" stroke-width="0.08">Public sequence</text>
<rect x="260.8" y="465.5" width="93.60" height="77.70" fill="none" stroke="#111" stroke-width="1.3"/>
<line x1="257.70" y1="472.30" x2="260.80" y2="472.30" stroke="#1a1a1a" stroke-width="1.1" stroke-linecap="butt"/>
<text x="254.10" y="474.05" font-size="5.8" text-anchor="end" fill="#222" font-weight="normal" textLength="24.50" lengthAdjust="spacingAndGlyphs" stroke="#222" stroke-width="0.15">101-1037</text>
<rect x="300.84" y="470.30" width="6.96" height="4.0" fill="#a60a2a"/>
<line x1="257.70" y1="478.23" x2="260.80" y2="478.23" stroke="#1a1a1a" stroke-width="1.1" stroke-linecap="butt"/>
<text x="254.10" y="479.98" font-size="5.8" text-anchor="end" fill="#222" font-weight="normal" textLength="24.50" lengthAdjust="spacingAndGlyphs" stroke="#222" stroke-width="0.15">104-1005</text>
<rect x="300.84" y="476.23" width="6.96" height="4.0" fill="#a60a2a"/>
<line x1="257.70" y1="484.16" x2="260.80" y2="484.16" stroke="#1a1a1a" stroke-width="1.1" stroke-linecap="butt"/>
<text x="254.10" y="485.91" font-size="5.8" text-anchor="end" fill="#222" font-weight="normal" textLength="24.50" lengthAdjust="spacingAndGlyphs" stroke="#222" stroke-width="0.15">101-1033</text>
<rect x="301.38" y="482.16" width="6.42" height="4.0" fill="#a60a2a"/>
<line x1="257.70" y1="490.09" x2="260.80" y2="490.09" stroke="#1a1a1a" stroke-width="1.1" stroke-linecap="butt"/>
<text x="254.10" y="491.84" font-size="5.8" text-anchor="end" fill="#222" font-weight="normal" textLength="24.50" lengthAdjust="spacingAndGlyphs" stroke="#222" stroke-width="0.15">101-1042</text>
<rect x="302.89" y="488.09" width="4.91" height="4.0" fill="#a60a2a"/>
<line x1="257.70" y1="496.02" x2="260.80" y2="496.02" stroke="#1a1a1a" stroke-width="1.1" stroke-linecap="butt"/>
<text x="254.10" y="497.77" font-size="5.8" text-anchor="end" fill="#222" font-weight="normal" textLength="24.50" lengthAdjust="spacingAndGlyphs" stroke="#222" stroke-width="0.15">101-1025</text>
<rect x="303.98" y="494.02" width="3.82" height="4.0" fill="#a60a2a"/>
<line x1="257.70" y1="501.95" x2="260.80" y2="501.95" stroke="#1a1a1a" stroke-width="1.1" stroke-linecap="butt"/>
<text x="254.10" y="503.70" font-size="5.8" text-anchor="end" fill="#222" font-weight="normal" textLength="24.50" lengthAdjust="spacingAndGlyphs" stroke="#222" stroke-width="0.15">200-1030</text>
<rect x="304.25" y="499.95" width="3.55" height="4.0" fill="#a60a2a"/>
<line x1="257.70" y1="507.88" x2="260.80" y2="507.88" stroke="#1a1a1a" stroke-width="1.1" stroke-linecap="butt"/>
<text x="254.10" y="509.63" font-size="5.8" text-anchor="end" fill="#222" font-weight="normal" textLength="24.50" lengthAdjust="spacingAndGlyphs" stroke="#222" stroke-width="0.15">104-1013</text>
<rect x="304.93" y="505.88" width="2.87" height="4.0" fill="#a60a2a"/>
<line x1="257.70" y1="513.81" x2="260.80" y2="513.81" stroke="#1a1a1a" stroke-width="1.1" stroke-linecap="butt"/>
<text x="254.10" y="515.56" font-size="5.8" text-anchor="end" fill="#222" font-weight="normal" textLength="24.50" lengthAdjust="spacingAndGlyphs" stroke="#222" stroke-width="0.15">104-1011</text>
<rect x="305.48" y="511.81" width="2.32" height="4.0" fill="#a60a2a"/>
<line x1="257.70" y1="519.74" x2="260.80" y2="519.74" stroke="#1a1a1a" stroke-width="1.1" stroke-linecap="butt"/>
<text x="254.10" y="521.49" font-size="5.8" text-anchor="end" fill="#222" font-weight="normal" textLength="24.50" lengthAdjust="spacingAndGlyphs" stroke="#222" stroke-width="0.15">104-1006</text>
<rect x="306.30" y="517.74" width="1.50" height="4.0" fill="#a60a2a"/>
<line x1="257.70" y1="525.67" x2="260.80" y2="525.67" stroke="#1a1a1a" stroke-width="1.1" stroke-linecap="butt"/>
<text x="254.10" y="527.42" font-size="5.8" text-anchor="end" fill="#222" font-weight="normal" textLength="24.50" lengthAdjust="spacingAndGlyphs" stroke="#222" stroke-width="0.15">203-1003</text>
<rect x="307.80" y="523.67" width="0.96" height="4.0" fill="#2b4a86"/>
<line x1="257.70" y1="531.60" x2="260.80" y2="531.60" stroke="#1a1a1a" stroke-width="1.1" stroke-linecap="butt"/>
<text x="254.10" y="533.35" font-size="5.8" text-anchor="end" fill="#222" font-weight="normal" textLength="24.50" lengthAdjust="spacingAndGlyphs" stroke="#222" stroke-width="0.15">101-1021</text>
<rect x="307.80" y="529.60" width="7.23" height="4.0" fill="#2b4a86"/>
<line x1="257.70" y1="537.53" x2="260.80" y2="537.53" stroke="#1a1a1a" stroke-width="1.1" stroke-linecap="butt"/>
<text x="254.10" y="539.28" font-size="5.8" text-anchor="end" fill="#222" font-weight="normal" textLength="24.50" lengthAdjust="spacingAndGlyphs" stroke="#222" stroke-width="0.15">103-1001</text>
<rect x="307.80" y="535.53" width="43.54" height="4.0" fill="#2b4a86"/>
<line x1="266.85" y1="543.20" x2="266.85" y2="547.00" stroke="#1a1a1a" stroke-width="1.1" stroke-linecap="butt"/>
<text x="269.75" y="554.10" font-size="6.4" text-anchor="end" fill="#222" font-weight="normal" textLength="11.13" lengthAdjust="spacingAndGlyphs" transform="rotate(-45 269.75 554.10)" stroke="#222" stroke-width="0.15">-300</text>
<line x1="280.50" y1="543.20" x2="280.50" y2="547.00" stroke="#1a1a1a" stroke-width="1.1" stroke-linecap="butt"/>
<text x="283.40" y="554.10" font-size="6.4" text-anchor="end" fill="#222" font-weight="normal" textLength="11.13" lengthAdjust="spacingAndGlyphs" transform="rotate(-45 283.40 554.10)" stroke="#222" stroke-width="0.15">-200</text>
<line x1="294.15" y1="543.20" x2="294.15" y2="547.00" stroke="#1a1a1a" stroke-width="1.1" stroke-linecap="butt"/>
<text x="297.05" y="554.10" font-size="6.4" text-anchor="end" fill="#222" font-weight="normal" textLength="11.13" lengthAdjust="spacingAndGlyphs" transform="rotate(-45 297.05 554.10)" stroke="#222" stroke-width="0.15">-100</text>
<line x1="307.80" y1="543.20" x2="307.80" y2="547.00" stroke="#1a1a1a" stroke-width="1.1" stroke-linecap="butt"/>
<text x="310.70" y="554.10" font-size="6.4" text-anchor="end" fill="#222" font-weight="normal" textLength="3.06" lengthAdjust="spacingAndGlyphs" transform="rotate(-45 310.70 554.10)" stroke="#222" stroke-width="0.15">0</text>
<line x1="321.45" y1="543.20" x2="321.45" y2="547.00" stroke="#1a1a1a" stroke-width="1.1" stroke-linecap="butt"/>
<text x="324.35" y="554.10" font-size="6.4" text-anchor="end" fill="#222" font-weight="normal" textLength="9.18" lengthAdjust="spacingAndGlyphs" transform="rotate(-45 324.35 554.10)" stroke="#222" stroke-width="0.15">100</text>
<line x1="335.10" y1="543.20" x2="335.10" y2="547.00" stroke="#1a1a1a" stroke-width="1.1" stroke-linecap="butt"/>
<text x="338.00" y="554.10" font-size="6.4" text-anchor="end" fill="#222" font-weight="normal" textLength="9.18" lengthAdjust="spacingAndGlyphs" transform="rotate(-45 338.00 554.10)" stroke="#222" stroke-width="0.15">200</text>
<line x1="348.75" y1="543.20" x2="348.75" y2="547.00" stroke="#1a1a1a" stroke-width="1.1" stroke-linecap="butt"/>
<text x="351.65" y="554.10" font-size="6.4" text-anchor="end" fill="#222" font-weight="normal" textLength="9.18" lengthAdjust="spacingAndGlyphs" transform="rotate(-45 351.65 554.10)" stroke="#222" stroke-width="0.15">300</text>
<text x="307.70" y="572.80" font-size="8.2" text-anchor="middle" fill="#222" font-weight="normal" textLength="56.20" lengthAdjust="spacingAndGlyphs">Productive clonality</text>
<rect x="402.6" y="465.5" width="92.70" height="77.50" fill="none" stroke="#111" stroke-width="1.3"/>
<line x1="399.50" y1="472.30" x2="402.60" y2="472.30" stroke="#1a1a1a" stroke-width="1.1" stroke-linecap="butt"/>
<text x="395.80" y="474.05" font-size="5.8" text-anchor="end" fill="#222" font-weight="normal" textLength="24.50" lengthAdjust="spacingAndGlyphs" stroke="#222" stroke-width="0.15">101-1042</text>
<rect x="441.57" y="470.30" width="6.73" height="4.0" fill="#a60a2a"/>
<line x1="399.50" y1="478.23" x2="402.60" y2="478.23" stroke="#1a1a1a" stroke-width="1.1" stroke-linecap="butt"/>
<text x="395.80" y="479.98" font-size="5.8" text-anchor="end" fill="#222" font-weight="normal" textLength="24.50" lengthAdjust="spacingAndGlyphs" stroke="#222" stroke-width="0.15">101-1037</text>
<rect x="443.23" y="476.23" width="5.07" height="4.0" fill="#a60a2a"/>
<line x1="399.50" y1="484.16" x2="402.60" y2="484.16" stroke="#1a1a1a" stroke-width="1.1" stroke-linecap="butt"/>
<text x="395.80" y="485.91" font-size="5.8" text-anchor="end" fill="#222" font-weight="normal" textLength="24.50" lengthAdjust="spacingAndGlyphs" stroke="#222" stroke-width="0.15">104-1006</text>
<rect x="447.97" y="482.16" width="0.33" height="4.0" fill="#a60a2a"/>
<line x1="399.50" y1="490.09" x2="402.60" y2="490.09" stroke="#1a1a1a" stroke-width="1.1" stroke-linecap="butt"/>
<text x="395.80" y="491.84" font-size="5.8" text-anchor="end" fill="#222" font-weight="normal" textLength="24.50" lengthAdjust="spacingAndGlyphs" stroke="#222" stroke-width="0.15">101-1025</text>
<rect x="448.08" y="488.09" width="0.22" height="4.0" fill="#a60a2a"/>
<line x1="399.50" y1="496.02" x2="402.60" y2="496.02" stroke="#1a1a1a" stroke-width="1.1" stroke-linecap="butt"/>
<text x="395.80" y="497.77" font-size="5.8" text-anchor="end" fill="#222" font-weight="normal" textLength="24.50" lengthAdjust="spacingAndGlyphs" stroke="#222" stroke-width="0.15">200-1030</text>
<rect x="448.30" y="494.02" width="1.88" height="4.0" fill="#2b4a86"/>
<line x1="399.50" y1="501.95" x2="402.60" y2="501.95" stroke="#1a1a1a" stroke-width="1.1" stroke-linecap="butt"/>
<text x="395.80" y="503.70" font-size="5.8" text-anchor="end" fill="#222" font-weight="normal" textLength="24.50" lengthAdjust="spacingAndGlyphs" stroke="#222" stroke-width="0.15">203-1003</text>
<rect x="448.30" y="499.95" width="2.43" height="4.0" fill="#2b4a86"/>
<line x1="399.50" y1="507.88" x2="402.60" y2="507.88" stroke="#1a1a1a" stroke-width="1.1" stroke-linecap="butt"/>
<text x="395.80" y="509.63" font-size="5.8" text-anchor="end" fill="#222" font-weight="normal" textLength="24.50" lengthAdjust="spacingAndGlyphs" stroke="#222" stroke-width="0.15">104-1011</text>
<rect x="448.30" y="505.88" width="4.52" height="4.0" fill="#2b4a86"/>
<line x1="399.50" y1="513.81" x2="402.60" y2="513.81" stroke="#1a1a1a" stroke-width="1.1" stroke-linecap="butt"/>
<text x="395.80" y="515.56" font-size="5.8" text-anchor="end" fill="#222" font-weight="normal" textLength="24.50" lengthAdjust="spacingAndGlyphs" stroke="#222" stroke-width="0.15">104-1013</text>
<rect x="448.30" y="511.81" width="5.40" height="4.0" fill="#2b4a86"/>
<line x1="399.50" y1="519.74" x2="402.60" y2="519.74" stroke="#1a1a1a" stroke-width="1.1" stroke-linecap="butt"/>
<text x="395.80" y="521.49" font-size="5.8" text-anchor="end" fill="#222" font-weight="normal" textLength="24.50" lengthAdjust="spacingAndGlyphs" stroke="#222" stroke-width="0.15">101-1021</text>
<rect x="448.30" y="517.74" width="6.73" height="4.0" fill="#2b4a86"/>
<line x1="399.50" y1="525.67" x2="402.60" y2="525.67" stroke="#1a1a1a" stroke-width="1.1" stroke-linecap="butt"/>
<text x="395.80" y="527.42" font-size="5.8" text-anchor="end" fill="#222" font-weight="normal" textLength="24.50" lengthAdjust="spacingAndGlyphs" stroke="#222" stroke-width="0.15">104-1005</text>
<rect x="448.30" y="523.67" width="18.31" height="4.0" fill="#2b4a86"/>
<line x1="399.50" y1="531.60" x2="402.60" y2="531.60" stroke="#1a1a1a" stroke-width="1.1" stroke-linecap="butt"/>
<text x="395.80" y="533.35" font-size="5.8" text-anchor="end" fill="#222" font-weight="normal" textLength="24.50" lengthAdjust="spacingAndGlyphs" stroke="#222" stroke-width="0.15">101-1033</text>
<rect x="448.30" y="529.60" width="26.69" height="4.0" fill="#2b4a86"/>
<line x1="399.50" y1="537.53" x2="402.60" y2="537.53" stroke="#1a1a1a" stroke-width="1.1" stroke-linecap="butt"/>
<text x="395.80" y="539.28" font-size="5.8" text-anchor="end" fill="#222" font-weight="normal" textLength="24.50" lengthAdjust="spacingAndGlyphs" stroke="#222" stroke-width="0.15">103-1001</text>
<rect x="448.30" y="535.53" width="43.57" height="4.0" fill="#2b4a86"/>
<line x1="404.18" y1="543.00" x2="404.18" y2="546.80" stroke="#1a1a1a" stroke-width="1.1" stroke-linecap="butt"/>
<text x="407.08" y="553.90" font-size="6.4" text-anchor="end" fill="#222" font-weight="normal" textLength="11.13" lengthAdjust="spacingAndGlyphs" transform="rotate(-45 407.08 553.90)" stroke="#222" stroke-width="0.15">-400</text>
<line x1="415.21" y1="543.00" x2="415.21" y2="546.80" stroke="#1a1a1a" stroke-width="1.1" stroke-linecap="butt"/>
<text x="418.11" y="553.90" font-size="6.4" text-anchor="end" fill="#222" font-weight="normal" textLength="11.13" lengthAdjust="spacingAndGlyphs" transform="rotate(-45 418.11 553.90)" stroke="#222" stroke-width="0.15">-300</text>
<line x1="426.24" y1="543.00" x2="426.24" y2="546.80" stroke="#1a1a1a" stroke-width="1.1" stroke-linecap="butt"/>
<text x="429.14" y="553.90" font-size="6.4" text-anchor="end" fill="#222" font-weight="normal" textLength="11.13" lengthAdjust="spacingAndGlyphs" transform="rotate(-45 429.14 553.90)" stroke="#222" stroke-width="0.15">-200</text>
<line x1="437.27" y1="543.00" x2="437.27" y2="546.80" stroke="#1a1a1a" stroke-width="1.1" stroke-linecap="butt"/>
<text x="440.17" y="553.90" font-size="6.4" text-anchor="end" fill="#222" font-weight="normal" textLength="11.13" lengthAdjust="spacingAndGlyphs" transform="rotate(-45 440.17 553.90)" stroke="#222" stroke-width="0.15">-100</text>
<line x1="448.30" y1="543.00" x2="448.30" y2="546.80" stroke="#1a1a1a" stroke-width="1.1" stroke-linecap="butt"/>
<text x="451.20" y="553.90" font-size="6.4" text-anchor="end" fill="#222" font-weight="normal" textLength="3.06" lengthAdjust="spacingAndGlyphs" transform="rotate(-45 451.20 553.90)" stroke="#222" stroke-width="0.15">0</text>
<line x1="459.33" y1="543.00" x2="459.33" y2="546.80" stroke="#1a1a1a" stroke-width="1.1" stroke-linecap="butt"/>
<text x="462.23" y="553.90" font-size="6.4" text-anchor="end" fill="#222" font-weight="normal" textLength="9.18" lengthAdjust="spacingAndGlyphs" transform="rotate(-45 462.23 553.90)" stroke="#222" stroke-width="0.15">100</text>
<line x1="470.36" y1="543.00" x2="470.36" y2="546.80" stroke="#1a1a1a" stroke-width="1.1" stroke-linecap="butt"/>
<text x="473.26" y="553.90" font-size="6.4" text-anchor="end" fill="#222" font-weight="normal" textLength="9.18" lengthAdjust="spacingAndGlyphs" transform="rotate(-45 473.26 553.90)" stroke="#222" stroke-width="0.15">200</text>
<line x1="481.39" y1="543.00" x2="481.39" y2="546.80" stroke="#1a1a1a" stroke-width="1.1" stroke-linecap="butt"/>
<text x="484.29" y="553.90" font-size="6.4" text-anchor="end" fill="#222" font-weight="normal" textLength="9.18" lengthAdjust="spacingAndGlyphs" transform="rotate(-45 484.29 553.90)" stroke="#222" stroke-width="0.15">300</text>
<line x1="492.42" y1="543.00" x2="492.42" y2="546.80" stroke="#1a1a1a" stroke-width="1.1" stroke-linecap="butt"/>
<text x="495.32" y="553.90" font-size="6.4" text-anchor="end" fill="#222" font-weight="normal" textLength="9.18" lengthAdjust="spacingAndGlyphs" transform="rotate(-45 495.32 553.90)" stroke="#222" stroke-width="0.15">400</text>
<text x="449.20" y="572.80" font-size="8.2" text-anchor="middle" fill="#222" font-weight="normal" textLength="25.50" lengthAdjust="spacingAndGlyphs">Richness</text>
</svg>
</body></html>
